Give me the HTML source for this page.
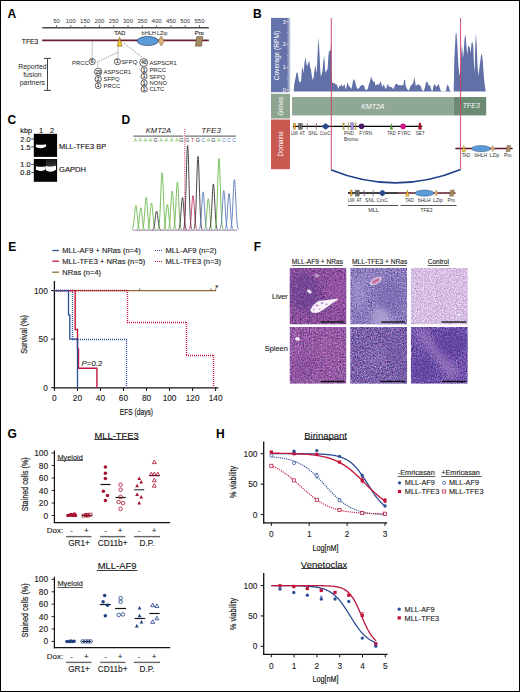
<!DOCTYPE html>
<html><head><meta charset="utf-8"><style>
html,body{margin:0;padding:0;background:#fff;}
body{width:520px;height:692px;overflow:hidden;}
svg{display:block;font-family:"Liberation Sans", sans-serif;}
</style></head><body>
<svg width="520" height="692" viewBox="0 0 520 692">
<rect x="0" y="0" width="520" height="692" fill="#fff"/>
<text x="7.6" y="17.6" font-size="12" text-anchor="start" fill="#000" font-weight="bold" font-style="normal" >A</text>
<text x="253.1" y="17.6" font-size="12" text-anchor="start" fill="#000" font-weight="bold" font-style="normal" >B</text>
<text x="7.4" y="123.8" font-size="12" text-anchor="start" fill="#000" font-weight="bold" font-style="normal" >C</text>
<text x="121.5" y="124" font-size="12" text-anchor="start" fill="#000" font-weight="bold" font-style="normal" >D</text>
<text x="8.2" y="250.6" font-size="12" text-anchor="start" fill="#000" font-weight="bold" font-style="normal" >E</text>
<text x="253.7" y="250.5" font-size="12" text-anchor="start" fill="#000" font-weight="bold" font-style="normal" >F</text>
<text x="7.6" y="438" font-size="12" text-anchor="start" fill="#000" font-weight="bold" font-style="normal" >G</text>
<text x="216" y="438.2" font-size="12" text-anchor="start" fill="#000" font-weight="bold" font-style="normal" >H</text>
<line x1="42.2" y1="27.8" x2="208.8" y2="27.8" stroke="#4a4a4a" stroke-width="1.4" />
<line x1="56.5" y1="25.2" x2="56.5" y2="27.5" stroke="#444" stroke-width="0.8" />
<text x="56.5" y="22.8" font-size="6.0" text-anchor="middle" fill="#333">50</text>
<line x1="70.80000000000001" y1="25.2" x2="70.80000000000001" y2="27.5" stroke="#444" stroke-width="0.8" />
<text x="70.80000000000001" y="22.8" font-size="6.0" text-anchor="middle" fill="#333">100</text>
<line x1="85.10000000000001" y1="25.2" x2="85.10000000000001" y2="27.5" stroke="#444" stroke-width="0.8" />
<text x="85.10000000000001" y="22.8" font-size="6.0" text-anchor="middle" fill="#333">150</text>
<line x1="99.4" y1="25.2" x2="99.4" y2="27.5" stroke="#444" stroke-width="0.8" />
<text x="99.4" y="22.8" font-size="6.0" text-anchor="middle" fill="#333">200</text>
<line x1="113.70000000000002" y1="25.2" x2="113.70000000000002" y2="27.5" stroke="#444" stroke-width="0.8" />
<text x="113.70000000000002" y="22.8" font-size="6.0" text-anchor="middle" fill="#333">250</text>
<line x1="128.0" y1="25.2" x2="128.0" y2="27.5" stroke="#444" stroke-width="0.8" />
<text x="128.0" y="22.8" font-size="6.0" text-anchor="middle" fill="#333">300</text>
<line x1="142.3" y1="25.2" x2="142.3" y2="27.5" stroke="#444" stroke-width="0.8" />
<text x="142.3" y="22.8" font-size="6.0" text-anchor="middle" fill="#333">350</text>
<line x1="156.60000000000002" y1="25.2" x2="156.60000000000002" y2="27.5" stroke="#444" stroke-width="0.8" />
<text x="156.60000000000002" y="22.8" font-size="6.0" text-anchor="middle" fill="#333">400</text>
<line x1="170.90000000000003" y1="25.2" x2="170.90000000000003" y2="27.5" stroke="#444" stroke-width="0.8" />
<text x="170.90000000000003" y="22.8" font-size="6.0" text-anchor="middle" fill="#333">450</text>
<line x1="185.20000000000005" y1="25.2" x2="185.20000000000005" y2="27.5" stroke="#444" stroke-width="0.8" />
<text x="185.20000000000005" y="22.8" font-size="6.0" text-anchor="middle" fill="#333">500</text>
<line x1="199.5" y1="25.2" x2="199.5" y2="27.5" stroke="#444" stroke-width="0.8" />
<text x="199.5" y="22.8" font-size="6.0" text-anchor="middle" fill="#333">550</text>
<text x="38.2" y="43.8" font-size="6.7" text-anchor="end" fill="#1a1a1a" font-weight="normal" font-style="normal" stroke="#1a1a1a" stroke-width="0.12" >TFE3</text>
<line x1="42.2" y1="40.4" x2="208.8" y2="40.4" stroke="#6b1e2c" stroke-width="1.7" />
<line x1="92.2" y1="41.5" x2="92.2" y2="58.2" stroke="#555" stroke-width="0.8" stroke-dasharray="0.9 1.1"/>
<line x1="118" y1="46.5" x2="118" y2="57.8" stroke="#555" stroke-width="0.8" stroke-dasharray="0.9 1.1"/>
<line x1="118" y1="52.2" x2="97.7" y2="61.7" stroke="#555" stroke-width="0.8" stroke-dasharray="0.9 1.1"/>
<line x1="97.7" y1="61.7" x2="97.7" y2="67.6" stroke="#555" stroke-width="0.8" stroke-dasharray="0.9 1.1"/>
<line x1="124" y1="43.2" x2="143.3" y2="58.2" stroke="#555" stroke-width="0.8" stroke-dasharray="0.9 1.1"/>
<polygon points="119.6,36.9 117.2,46.2 122.2,46.2" fill="#f2c230" stroke="#6a5010" stroke-width="0.5"/>
<text x="119.8" y="35.2" font-size="5.8" text-anchor="middle" fill="#222" font-weight="normal" font-style="normal" stroke="#222" stroke-width="0.12" >TAD</text>
<ellipse cx="147.7" cy="41" rx="10.6" ry="4.6" fill="#5b9ad8" stroke="#1d3557" stroke-width="0.6"/>
<text x="155.9" y="35.2" font-size="5.7" text-anchor="end" fill="#222" textLength="14.4" lengthAdjust="spacingAndGlyphs">bHLH</text>
<polygon points="161.3,36 164.3,41 161.3,46 158.3,41" fill="#dcb07a" stroke="#6a5030" stroke-width="0.5"/>
<text x="156.9" y="35.2" font-size="5.7" fill="#222" textLength="10.6" lengthAdjust="spacingAndGlyphs">LZip</text>
<polygon points="196.6,36.6 202.8,36.6 201.6,46.2 195.4,46.2" fill="#a58a62" stroke="#5a4830" stroke-width="0.5"/>
<text x="199.3" y="35.2" font-size="5.8" text-anchor="middle" fill="#222" font-weight="normal" font-style="normal" stroke="#222" stroke-width="0.12" >Pro</text>
<text x="32.4" y="68.9" font-size="6.9" text-anchor="middle" fill="#262626">Reported</text>
<text x="32.4" y="77" font-size="6.9" text-anchor="middle" fill="#262626">fusion</text>
<text x="32.4" y="85.0" font-size="6.9" text-anchor="middle" fill="#262626">partners</text>
<line x1="47.5" y1="58.4" x2="47.5" y2="90.4" stroke="#444" stroke-width="1.0" />
<line x1="44.0" y1="58.4" x2="51.0" y2="58.4" stroke="#444" stroke-width="1.0" />
<line x1="44.0" y1="90.4" x2="51.0" y2="90.4" stroke="#444" stroke-width="1.0" />
<text x="88.7" y="64.5" font-size="5.9" text-anchor="end" fill="#222">PRCC</text>
<circle cx="92.2" cy="61.6" r="3.1" fill="#fff" stroke="#222" stroke-width="0.7"/>
<text x="92.2" y="63.35" font-size="4.9" text-anchor="middle" fill="#111" stroke="#111" stroke-width="0.12">6</text>
<circle cx="117.4" cy="61.7" r="3.1" fill="#fff" stroke="#222" stroke-width="0.7"/>
<text x="117.4" y="63.45" font-size="4.9" text-anchor="middle" fill="#111" stroke="#111" stroke-width="0.12">1</text>
<text x="121.2" y="63.8" font-size="5.9" text-anchor="start" fill="#222">SFPQ</text>
<circle cx="98.2" cy="71.8" r="3.7" fill="#fff" stroke="#222" stroke-width="0.7"/>
<text x="98.2" y="73.55" font-size="4.6" text-anchor="middle" fill="#111" stroke="#111" stroke-width="0.12">29</text>
<circle cx="98.2" cy="79" r="3.2" fill="#fff" stroke="#222" stroke-width="0.7"/>
<text x="98.2" y="80.75" font-size="4.9" text-anchor="middle" fill="#111" stroke="#111" stroke-width="0.12">2</text>
<circle cx="98.2" cy="85.6" r="3.0" fill="#fff" stroke="#222" stroke-width="0.7"/>
<text x="98.2" y="87.35" font-size="4.9" text-anchor="middle" fill="#111" stroke="#111" stroke-width="0.12">1</text>
<text x="103.5" y="73.8" font-size="5.9" text-anchor="start" fill="#222">ASPSCR1</text>
<text x="103.5" y="81.2" font-size="5.9" text-anchor="start" fill="#222">SFPQ</text>
<text x="103.5" y="87.6" font-size="5.9" text-anchor="start" fill="#222">PRCC</text>
<circle cx="143.7" cy="62.5" r="3.9" fill="#fff" stroke="#222" stroke-width="0.7"/>
<text x="143.7" y="64.25" font-size="4.6" text-anchor="middle" fill="#111" stroke="#111" stroke-width="0.12">40</text>
<text x="149.4" y="64.6" font-size="5.9" text-anchor="start" fill="#222">ASPSCR1</text>
<circle cx="144.1" cy="69.9" r="3.1" fill="#fff" stroke="#222" stroke-width="0.7"/>
<text x="144.1" y="71.65" font-size="4.9" text-anchor="middle" fill="#111" stroke="#111" stroke-width="0.12">1</text>
<text x="149.4" y="72.1" font-size="5.9" text-anchor="start" fill="#222">PRCC</text>
<circle cx="144.1" cy="76.3" r="3.1" fill="#fff" stroke="#222" stroke-width="0.7"/>
<text x="144.1" y="78.05" font-size="4.9" text-anchor="middle" fill="#111" stroke="#111" stroke-width="0.12">1</text>
<text x="149.4" y="78.6" font-size="5.9" text-anchor="start" fill="#222">SFPQ</text>
<circle cx="144.1" cy="82.9" r="3.1" fill="#fff" stroke="#222" stroke-width="0.7"/>
<text x="144.1" y="84.65" font-size="4.9" text-anchor="middle" fill="#111" stroke="#111" stroke-width="0.12">1</text>
<text x="149.4" y="85" font-size="5.9" text-anchor="start" fill="#222">NONO</text>
<circle cx="144.1" cy="89.1" r="3.1" fill="#fff" stroke="#222" stroke-width="0.7"/>
<text x="144.1" y="90.85" font-size="4.9" text-anchor="middle" fill="#111" stroke="#111" stroke-width="0.12">1</text>
<text x="149.4" y="91.3" font-size="5.9" text-anchor="start" fill="#222">CLTC</text>
<defs><linearGradient id="covg" x1="0" x2="1" y1="0" y2="0"><stop offset="0" stop-color="#6673aa"/><stop offset="0.82" stop-color="#6673aa"/><stop offset="1" stop-color="#c9cde0"/></linearGradient></defs>
<rect x="271" y="17.9" width="19.2" height="74.3" fill="url(#covg)" />
<rect x="271" y="93.8" width="19" height="24.7" fill="#8da58f" />
<rect x="271" y="119.5" width="19" height="49.7" fill="#c85a52" />
<text transform="translate(278.8,55.6) rotate(-90)" font-size="6.6" text-anchor="middle" fill="#fff">Coverage (RPM)</text>
<text transform="translate(282.8,106.2) rotate(-90)" font-size="6.4" text-anchor="middle" fill="#fff">Genes</text>
<text transform="translate(283,143.8) rotate(-90)" font-size="6.4" text-anchor="middle" fill="#fff">Domains</text>
<text x="284.4" y="23.5" font-size="5.6" text-anchor="middle" fill="#fff" font-weight="normal" font-style="normal" >3</text>
<line x1="286.6" y1="21.5" x2="288.4" y2="21.5" stroke="#fff" stroke-width="0.7" />
<text x="284.4" y="46.3" font-size="5.6" text-anchor="middle" fill="#fff" font-weight="normal" font-style="normal" >2</text>
<line x1="286.6" y1="44.3" x2="288.4" y2="44.3" stroke="#fff" stroke-width="0.7" />
<text x="284.4" y="69.2" font-size="5.6" text-anchor="middle" fill="#fff" font-weight="normal" font-style="normal" >1</text>
<line x1="286.6" y1="67.2" x2="288.4" y2="67.2" stroke="#fff" stroke-width="0.7" />
<text x="284.4" y="92.0" font-size="5.6" text-anchor="middle" fill="#fff" font-weight="normal" font-style="normal" >0</text>
<line x1="286.6" y1="90" x2="288.4" y2="90" stroke="#fff" stroke-width="0.7" />
<line x1="287.2" y1="32.9" x2="288.4" y2="32.9" stroke="#fff" stroke-width="0.5" />
<line x1="287.2" y1="55.75" x2="288.4" y2="55.75" stroke="#fff" stroke-width="0.5" />
<line x1="287.2" y1="78.6" x2="288.4" y2="78.6" stroke="#fff" stroke-width="0.5" />
<path d="M293.7,91.4 L293.65,91.4 L294.23,84.61 L294.81,81.15 L295.61,77.69 L296.54,72.5 L297.69,73.07 L298.61,78.84 L299.42,82.31 L300.58,81.73 L301.15,81.15 L301.73,70.77 L302.31,66.15 L302.88,69.61 L303.46,73.07 L304.38,63.84 L305.54,56.92 L306.35,62.69 L306.92,66.15 L308.08,63.84 L309.23,60.38 L310.15,67.31 L310.96,69.61 L311.77,75.38 L312.69,80.0 L313.61,77.69 L314.42,70.77 L315.23,66.15 L315.58,65.58 L316.15,70.77 L316.73,73.07 L317.54,54.61 L318.46,37.31 L319.04,45.38 L319.61,54.61 L320.19,68.46 L320.77,76.54 L321.69,74.23 L322.5,70.77 L323.31,61.54 L324.23,55.77 L324.81,63.84 L325.38,73.07 L326.54,70.77 L327.69,68.46 L328.27,58.08 L328.84,52.31 L330.0,50.58 L330.58,50.0 L331.15,41.92 L331.5,66.15 L332.02,82.21 L333.36,83.55 L334.31,82.61 L335.38,84.5 L336.46,83.96 L337.4,86.24 L338.34,88.94 L339.42,85.57 L340.5,86.24 L341.44,84.23 L342.79,86.92 L343.46,85.57 L344.54,84.23 L345.48,88.26 L346.15,88.94 L346.82,84.9 L347.5,82.21 L348.57,85.57 L349.52,86.24 L350.19,87.59 L351.27,88.94 L352.21,85.57 L352.88,81.53 L353.96,79.11 L354.9,80.86 L355.57,83.55 L356.65,87.59 L357.59,88.94 L358.94,88.26 L360.28,86.24 L361.22,85.57 L362.3,84.9 L363.38,84.9 L364.32,86.24 L364.99,88.94 L366.07,89.88 L367.01,89.88 L367.95,88.26 L368.76,84.9 L369.7,82.21 L370.38,79.52 L371.05,75.88 L371.72,78.84 L372.8,80.86 L373.74,82.21 L374.41,80.86 L375.36,85.57 L376.43,84.9 L377.38,83.96 L378.45,84.9 L379.53,83.55 L380.47,80.86 L381.41,84.23 L382.49,86.92 L383.57,84.23 L384.51,86.24 L385.45,88.94 L386.26,88.26 L387.2,84.9 L388.14,84.23 L388.95,86.92 L389.89,86.24 L390.83,87.59 L391.91,86.92 L392.99,88.94 L393.93,88.26 L394.87,85.57 L395.95,83.55 L397.03,83.96 L397.97,84.9 L398.91,85.57 L399.71,84.9 L401.06,85.57 L402.4,84.9 L403.34,85.57 L404.15,79.52 L405.09,80.19 L405.77,86.24 L407.11,88.94 L408.46,90.69 L409.54,88.94 L410.48,86.24 L411.42,84.9 L412.5,84.23 L413.57,81.53 L414.25,76.82 L415.19,82.21 L415.86,86.24 L416.8,84.9 L417.88,84.23 L419.23,84.9 L420.57,85.57 L421.65,88.94 L422.59,90.69 L423.94,90.69 L424.88,87.59 L425.69,83.55 L426.63,81.53 L427.57,82.21 L428.65,85.57 L429.72,84.9 L430.67,87.59 L431.61,90.69 L432.69,90.69 L433.36,86.24 L434.3,83.96 L435.38,85.57 L436.45,86.92 L437.8,84.9 L438.74,83.96 L439.68,87.59 L440.76,90.69 L442.11,91.22 L445.87,91.22 L446.82,86.24 L447.76,84.23 L448.84,86.92 L449.91,90.69 L451.53,91.36 L451.53,91.4 L453.7,91.4 L454.22,61.9 L455.61,34.22 L456.47,33.01 L457.34,44.6 L458.55,67.09 L459.41,75.74 L460.45,70.55 L461.14,53.25 L462.01,44.6 L462.87,58.44 L463.74,51.52 L464.6,37.68 L465.47,34.22 L466.33,44.6 L467.2,54.98 L468.06,46.33 L468.93,45.47 L469.79,48.06 L470.66,53.25 L471.52,42.87 L472.39,42.01 L473.25,46.33 L474.12,67.09 L474.64,72.28 L475.33,44.6 L475.85,33.36 L476.71,44.6 L477.58,67.09 L478.44,75.74 L479.31,68.82 L480.17,61.9 L481.04,54.98 L481.9,54.12 L482.77,60.17 L483.63,74.01 L484.5,82.66 L485.71,91.4 Z" fill="#6270a8"/>
<rect x="292" y="97" width="161.4" height="18.4" fill="#8fa795" />
<rect x="453.4" y="97" width="32.8" height="18.4" fill="#6b8b73" />
<text x="361.2" y="108.6" font-size="7" text-anchor="start" fill="#fff" font-weight="normal" font-style="italic" >KMT2A</text>
<text x="462.8" y="108.2" font-size="7" text-anchor="start" fill="#fff" font-weight="normal" font-style="italic" >TFE3</text>
<line x1="292.9" y1="126.4" x2="422.3" y2="126.4" stroke="#000" stroke-width="1.4" />
<rect x="293.7" y="123.30000000000001" width="1.6" height="6" fill="#f0a020" stroke="#7a4a00" stroke-width="0.3"/>
<rect x="298.6" y="123.4" width="1.7" height="6" fill="#808080" stroke="#333" stroke-width="0.35"/>
<rect x="300.7" y="123.4" width="1.7" height="6" fill="#808080" stroke="#333" stroke-width="0.35"/>
<line x1="298.6" y1="124.9" x2="302.4" y2="124.9" stroke="#444" stroke-width="0.3" />
<line x1="298.6" y1="126.4" x2="302.4" y2="126.4" stroke="#444" stroke-width="0.3" />
<line x1="298.6" y1="127.9" x2="302.4" y2="127.9" stroke="#444" stroke-width="0.3" />
<line x1="307.3" y1="123.2" x2="307.3" y2="129.6" stroke="#8a5a8a" stroke-width="0.9" />
<line x1="316.4" y1="123.2" x2="316.4" y2="129.6" stroke="#8a5a8a" stroke-width="0.9" />
<polygon points="321.40000000000003,126.4 325.6,123.0 329.8,126.4 325.6,129.8" fill="#2a4a8a"/>
<text x="290.90" y="135.00" font-size="5.6" fill="#333" textLength="7.00" lengthAdjust="spacingAndGlyphs">LMI</text>
<text x="299.60" y="135.00" font-size="5.6" fill="#333" textLength="5.30" lengthAdjust="spacingAndGlyphs">AT</text>
<text x="308.30" y="135.00" font-size="5.6" fill="#333" textLength="9.60" lengthAdjust="spacingAndGlyphs">SNL</text>
<text x="319.80" y="135.00" font-size="5.6" fill="#333" textLength="11.10" lengthAdjust="spacingAndGlyphs">CxxC</text>
<polygon points="342.3,122.8 344.9,122.8 343.90000000000003,126.3 344.9,129.8 342.3,129.8 343.3,126.3" fill="#b59a48"/>
<polygon points="347.6,122.8 349.1,122.8 348.65000000000003,126.3 349.1,129.8 347.6,129.8 348.05,126.3" fill="#b59a48"/>
<rect x="350.8" y="122.8" width="2.8" height="7" fill="#9b93d4" stroke="#5a5090" stroke-width="0.3"/>
<polygon points="354.5,122.8 356.5,122.8 355.8,126.3 356.5,129.8 354.5,129.8 355.2,126.3" fill="#b59a48"/>
<circle cx="361.6" cy="126.3" r="2.8" fill="#4b1c6b"/>
<polygon points="391.3,122.8 389.9,129.4 393,129.4" fill="#4a9a30"/>
<circle cx="403.1" cy="126.4" r="2.8" fill="#d0148c"/>
<polygon points="418.9,122.8 420.9,122.8 421.8,129.5 418.3,129.5" fill="#a3122e"/>
<text x="344.00" y="135.00" font-size="5.6" fill="#333" textLength="9.90" lengthAdjust="spacingAndGlyphs">PHD</text>
<text x="344.00" y="141.10" font-size="5.6" fill="#333" textLength="14.20" lengthAdjust="spacingAndGlyphs">Bromo</text>
<text x="359.20" y="135.00" font-size="5.6" fill="#333" textLength="12.90" lengthAdjust="spacingAndGlyphs">FYRN</text>
<text x="387.20" y="135.00" font-size="5.6" fill="#333" textLength="8.70" lengthAdjust="spacingAndGlyphs">TAD</text>
<text x="397.80" y="135.00" font-size="5.6" fill="#333" textLength="12.80" lengthAdjust="spacingAndGlyphs">FYRC</text>
<text x="415.80" y="135.00" font-size="5.6" fill="#333" textLength="8.90" lengthAdjust="spacingAndGlyphs">SET</text>
<line x1="455.4" y1="148.6" x2="512.6" y2="148.6" stroke="#5e1424" stroke-width="1.5" />
<polygon points="463.8,145.2 462.0,151.79999999999998 465.6,151.79999999999998" fill="#f2c230" stroke="#6a5010" stroke-width="0.3"/>
<ellipse cx="481" cy="148.6" rx="9.5" ry="3.1" fill="#5b9ad8" stroke="#1d3557" stroke-width="0.4"/>
<polygon points="492.7,145.6 494.59999999999997,148.6 492.7,151.6 490.8,148.6" fill="#dcb07a" stroke="#6a5030" stroke-width="0.3"/>
<polygon points="507,145.4 510.8,145.4 509.8,151.79999999999998 506,151.79999999999998" fill="#a58a62" stroke="#5a4830" stroke-width="0.3"/>
<text x="461.70" y="157.40" font-size="5.6" fill="#333" textLength="8.70" lengthAdjust="spacingAndGlyphs">TAD</text>
<text x="474.40" y="157.40" font-size="5.6" fill="#333" textLength="12.80" lengthAdjust="spacingAndGlyphs">bHLH</text>
<text x="489.60" y="157.40" font-size="5.6" fill="#333" textLength="9.80" lengthAdjust="spacingAndGlyphs">LZip</text>
<text x="503.90" y="157.40" font-size="5.6" fill="#333" textLength="7.60" lengthAdjust="spacingAndGlyphs">Pro</text>
<line x1="331.3" y1="17.9" x2="331.3" y2="170.2" stroke="#c9405c" stroke-width="0.9" />
<line x1="460.6" y1="17.9" x2="460.6" y2="169.6" stroke="#c9405c" stroke-width="0.9" />
<path d="M331.3,170 Q396,196 460.6,169.5" fill="none" stroke="#1f3f8a" stroke-width="1.5"/>
<line x1="348" y1="193.1" x2="398.8" y2="193.1" stroke="#000" stroke-width="1.5" />
<line x1="398.8" y1="193.1" x2="455.4" y2="193.1" stroke="#5e1424" stroke-width="1.5" />
<rect x="350.5" y="190.0" width="1.6" height="6" fill="#f0a020" stroke="#7a4a00" stroke-width="0.3"/>
<rect x="355.40000000000003" y="190.1" width="1.7" height="6" fill="#808080" stroke="#333" stroke-width="0.35"/>
<rect x="357.5" y="190.1" width="1.7" height="6" fill="#808080" stroke="#333" stroke-width="0.35"/>
<line x1="355.40000000000003" y1="191.6" x2="359.2" y2="191.6" stroke="#444" stroke-width="0.3" />
<line x1="355.40000000000003" y1="193.1" x2="359.2" y2="193.1" stroke="#444" stroke-width="0.3" />
<line x1="355.40000000000003" y1="194.6" x2="359.2" y2="194.6" stroke="#444" stroke-width="0.3" />
<line x1="364.1" y1="189.9" x2="364.1" y2="196.29999999999998" stroke="#8a5a8a" stroke-width="0.9" />
<line x1="373.2" y1="189.9" x2="373.2" y2="196.29999999999998" stroke="#8a5a8a" stroke-width="0.9" />
<polygon points="378.20000000000005,193.1 382.40000000000003,189.7 386.6,193.1 382.40000000000003,196.5" fill="#2a4a8a"/>
<text x="347.70" y="201.70" font-size="5.6" fill="#333" textLength="7.00" lengthAdjust="spacingAndGlyphs">LMI</text>
<text x="356.40" y="201.70" font-size="5.6" fill="#333" textLength="5.30" lengthAdjust="spacingAndGlyphs">AT</text>
<text x="365.10" y="201.70" font-size="5.6" fill="#333" textLength="9.60" lengthAdjust="spacingAndGlyphs">SNL</text>
<text x="376.60" y="201.70" font-size="5.6" fill="#333" textLength="11.10" lengthAdjust="spacingAndGlyphs">CxxC</text>
<polygon points="407.3,189.7 405.5,196.29999999999998 409.1,196.29999999999998" fill="#f2c230" stroke="#6a5010" stroke-width="0.3"/>
<ellipse cx="424.5" cy="193.1" rx="9.5" ry="3.1" fill="#5b9ad8" stroke="#1d3557" stroke-width="0.4"/>
<polygon points="436.2,190.1 438.09999999999997,193.1 436.2,196.1 434.3,193.1" fill="#dcb07a" stroke="#6a5030" stroke-width="0.3"/>
<polygon points="450.5,189.9 454.3,189.9 453.3,196.29999999999998 449.5,196.29999999999998" fill="#a58a62" stroke="#5a4830" stroke-width="0.3"/>
<text x="405.20" y="201.90" font-size="5.6" fill="#333" textLength="8.70" lengthAdjust="spacingAndGlyphs">TAD</text>
<text x="417.90" y="201.90" font-size="5.6" fill="#333" textLength="12.80" lengthAdjust="spacingAndGlyphs">bHLH</text>
<text x="433.10" y="201.90" font-size="5.6" fill="#333" textLength="9.80" lengthAdjust="spacingAndGlyphs">LZip</text>
<text x="447.40" y="201.90" font-size="5.6" fill="#333" textLength="7.60" lengthAdjust="spacingAndGlyphs">Pro</text>
<line x1="348" y1="205.5" x2="398.3" y2="205.5" stroke="#555" stroke-width="1.0" />
<line x1="400.6" y1="205.5" x2="456.5" y2="205.5" stroke="#555" stroke-width="1.0" />
<text x="368.20" y="212.20" font-size="5.6" fill="#333" textLength="10.60" lengthAdjust="spacingAndGlyphs">MLL</text>
<text x="420.60" y="212.20" font-size="5.6" fill="#333" textLength="11.80" lengthAdjust="spacingAndGlyphs">TFE3</text>
<rect x="33.8" y="133.8" width="23.3" height="23.1" fill="#050505" />
<rect x="33.8" y="159.0" width="23.3" height="22.8" fill="#050505" />
<defs><radialGradient id="band" cx="0.5" cy="0.5" r="0.5"><stop offset="0" stop-color="#fff"/><stop offset="0.7" stop-color="#f4f4f4"/><stop offset="1" stop-color="#fff" stop-opacity="0"/></radialGradient><linearGradient id="smear" x1="0" x2="0" y1="0" y2="1"><stop offset="0" stop-color="#222"/><stop offset="1" stop-color="#555"/></linearGradient></defs>
<filter id="bb" x="-20%" y="-50%" width="140%" height="200%"><feGaussianBlur stdDeviation="0.35"/></filter>
<path d="M35.9,144.4 Q41,145.4 46.1,144.2 L46.1,146.6 Q41,149.8 35.9,146.9 Z" fill="#fff" filter="url(#bb)"/>
<rect x="45.8" y="159.2" width="10.4" height="7.4" fill="url(#smear)" opacity="0.65"/>
<path d="M35.9,166.2 Q40.8,167.2 45.6,166.2 L45.6,169.4 Q40.8,172.2 35.9,169.8 Z" fill="#fff" filter="url(#bb)"/>
<path d="M45.8,165.9 Q50.9,167 56,165.8 L56,169.8 Q50.9,173.4 45.8,170.2 Z" fill="#fff" filter="url(#bb)"/>
<text x="20.3" y="133.2" font-size="7.3" text-anchor="start" fill="#111" font-weight="normal" font-style="normal" stroke="#111" stroke-width="0.12" >kbp</text>
<text x="41" y="133.2" font-size="7.3" text-anchor="middle" fill="#111" font-weight="normal" font-style="normal" stroke="#111" stroke-width="0.12" >1</text>
<text x="52" y="133.2" font-size="7.3" text-anchor="middle" fill="#111" font-weight="normal" font-style="normal" stroke="#111" stroke-width="0.12" >2</text>
<text x="30.5" y="141.6" font-size="7.3" text-anchor="end" fill="#111" font-weight="normal" font-style="normal" stroke="#111" stroke-width="0.12" >2.0</text>
<line x1="31.2" y1="139" x2="33.8" y2="139" stroke="#111" stroke-width="0.8" />
<text x="30.5" y="149.5" font-size="7.3" text-anchor="end" fill="#111" font-weight="normal" font-style="normal" stroke="#111" stroke-width="0.12" >1.5</text>
<line x1="31.2" y1="146.9" x2="33.8" y2="146.9" stroke="#111" stroke-width="0.8" />
<text x="30.5" y="167.0" font-size="7.3" text-anchor="end" fill="#111" font-weight="normal" font-style="normal" stroke="#111" stroke-width="0.12" >1.0</text>
<line x1="31.2" y1="164.4" x2="33.8" y2="164.4" stroke="#111" stroke-width="0.8" />
<text x="30.5" y="175.2" font-size="7.3" text-anchor="end" fill="#111" font-weight="normal" font-style="normal" stroke="#111" stroke-width="0.12" >0.8</text>
<line x1="31.2" y1="172.6" x2="33.8" y2="172.6" stroke="#111" stroke-width="0.8" />
<text x="59" y="149.1" font-size="7.45" text-anchor="start" fill="#111" font-weight="normal" font-style="normal" stroke="#111" stroke-width="0.12" >MLL-TFE3 BP</text>
<text x="59" y="172.1" font-size="7.6" text-anchor="start" fill="#111" font-weight="normal" font-style="normal" stroke="#111" stroke-width="0.12" >GAPDH</text>
<text x="158.4" y="132.6" font-size="8" text-anchor="middle" fill="#1a1a1a" font-style="italic" textLength="25.3" lengthAdjust="spacingAndGlyphs">KMT2A</text>
<text x="211.1" y="132.6" font-size="8" text-anchor="middle" fill="#1a1a1a" font-style="italic">TFE3</text>
<line x1="133.4" y1="136.1" x2="183.2" y2="136.1" stroke="#707070" stroke-width="1.4" />
<line x1="185.2" y1="136.1" x2="235.8" y2="136.1" stroke="#707070" stroke-width="1.4" />
<text x="135.3" y="142.2" font-size="5.3" text-anchor="middle" fill="#6cb84c">A</text>
<text x="139.9" y="142.2" font-size="5.3" text-anchor="middle" fill="#6cb84c">A</text>
<text x="145.4" y="142.2" font-size="5.3" text-anchor="middle" fill="#6cb84c">A</text>
<text x="150.4" y="142.2" font-size="5.3" text-anchor="middle" fill="#6cb84c">A</text>
<text x="155.5" y="142.2" font-size="5.3" text-anchor="middle" fill="#333">G</text>
<text x="161" y="142.2" font-size="5.3" text-anchor="middle" fill="#6cb84c">A</text>
<text x="166.3" y="142.2" font-size="5.3" text-anchor="middle" fill="#6cb84c">A</text>
<text x="171.7" y="142.2" font-size="5.3" text-anchor="middle" fill="#6cb84c">A</text>
<text x="177" y="142.2" font-size="5.3" text-anchor="middle" fill="#6cb84c">A</text>
<text x="181.4" y="142.2" font-size="5.3" text-anchor="middle" fill="#333">G</text>
<text x="187.2" y="142.2" font-size="5.3" text-anchor="middle" fill="#333">G</text>
<text x="192.7" y="142.2" font-size="5.3" text-anchor="middle" fill="#c8355a">T</text>
<text x="197.8" y="142.2" font-size="5.3" text-anchor="middle" fill="#333">G</text>
<text x="203.1" y="142.2" font-size="5.3" text-anchor="middle" fill="#5b7cb8">C</text>
<text x="208.3" y="142.2" font-size="5.3" text-anchor="middle" fill="#6cb84c">A</text>
<text x="213.4" y="142.2" font-size="5.3" text-anchor="middle" fill="#333">G</text>
<text x="218.7" y="142.2" font-size="5.3" text-anchor="middle" fill="#6cb84c">A</text>
<text x="223.8" y="142.2" font-size="5.3" text-anchor="middle" fill="#5b7cb8">C</text>
<text x="229" y="142.2" font-size="5.3" text-anchor="middle" fill="#5b7cb8">C</text>
<text x="234.1" y="142.2" font-size="5.3" text-anchor="middle" fill="#5b7cb8">C</text>
<polyline points="131.50,229.88 131.70,229.81 131.90,229.69 132.10,229.53 132.30,229.30 132.50,228.97 132.70,228.52 132.90,227.92 133.10,227.14 133.30,226.15 133.50,224.93 133.70,223.48 133.90,221.79 134.10,219.89 134.30,217.81 134.50,215.63 134.70,213.43 134.90,211.30 135.10,209.36 135.30,207.71 135.50,206.46 135.70,205.67 135.90,205.40 136.10,205.67 136.30,206.46 136.50,207.71 136.70,209.36 136.90,211.30 137.10,213.43 137.30,215.63 137.50,217.81 137.70,219.89 137.90,221.79 138.10,223.48 138.30,224.93 138.50,226.15 138.70,227.14 138.90,227.92 139.10,228.52 139.30,228.97 139.50,229.30 139.70,229.53 139.90,229.69 140.10,229.81 140.30,229.88" fill="none" stroke="#6cb84c" stroke-width="0.9"/>
<polyline points="136.40,229.89 136.60,229.82 136.80,229.72 137.00,229.58 137.20,229.37 137.40,229.07 137.60,228.66 137.80,228.12 138.00,227.42 138.20,226.53 138.40,225.43 138.60,224.12 138.80,222.59 139.00,220.87 139.20,219.00 139.40,217.03 139.60,215.05 139.80,213.13 140.00,211.37 140.20,209.89 140.40,208.75 140.60,208.04 140.80,207.80 141.00,208.04 141.20,208.75 141.40,209.89 141.60,211.37 141.80,213.13 142.00,215.05 142.20,217.03 142.40,219.00 142.60,220.87 142.80,222.59 143.00,224.12 143.20,225.43 143.40,226.53 143.60,227.42 143.80,228.12 144.00,228.66 144.20,229.07 144.40,229.37 144.60,229.58 144.80,229.72 145.00,229.82 145.20,229.89" fill="none" stroke="#6cb84c" stroke-width="0.9"/>
<polyline points="141.80,229.84 142.00,229.74 142.20,229.60 142.40,229.38 142.60,229.07 142.80,228.63 143.00,228.04 143.20,227.24 143.40,226.21 143.60,224.90 143.80,223.29 144.00,221.36 144.20,219.12 144.40,216.60 144.60,213.85 144.80,210.96 145.00,208.04 145.20,205.22 145.40,202.65 145.60,200.47 145.80,198.80 146.00,197.76 146.20,197.40 146.40,197.76 146.60,198.80 146.80,200.47 147.00,202.65 147.20,205.22 147.40,208.04 147.60,210.96 147.80,213.85 148.00,216.60 148.20,219.12 148.40,221.36 148.60,223.29 148.80,224.90 149.00,226.21 149.20,227.24 149.40,228.04 149.60,228.63 149.80,229.07 150.00,229.38 150.20,229.60 150.40,229.74 150.60,229.84" fill="none" stroke="#6cb84c" stroke-width="0.9"/>
<polyline points="147.10,229.87 147.30,229.79 147.50,229.67 147.70,229.49 147.90,229.23 148.10,228.87 148.30,228.37 148.50,227.71 148.70,226.86 148.90,225.77 149.10,224.44 149.30,222.84 149.50,220.99 149.70,218.90 149.90,216.62 150.10,214.23 150.30,211.81 150.50,209.48 150.70,207.35 150.90,205.54 151.10,204.16 151.30,203.29 151.50,203.00 151.70,203.29 151.90,204.16 152.10,205.54 152.30,207.35 152.50,209.48 152.70,211.81 152.90,214.23 153.10,216.62 153.30,218.90 153.50,220.99 153.70,222.84 153.90,224.44 154.10,225.77 154.30,226.86 154.50,227.71 154.70,228.37 154.90,228.87 155.10,229.23 155.30,229.49 155.50,229.67 155.70,229.79 155.90,229.87" fill="none" stroke="#6cb84c" stroke-width="0.9"/>
<polyline points="152.20,229.91 152.40,229.85 152.60,229.76 152.80,229.64 153.00,229.46 153.20,229.20 153.40,228.86 153.60,228.39 153.80,227.79 154.00,227.03 154.20,226.09 154.40,224.96 154.60,223.66 154.80,222.19 155.00,220.59 155.20,218.90 155.40,217.20 155.60,215.56 155.80,214.06 156.00,212.79 156.20,211.82 156.40,211.21 156.60,211.00 156.80,211.21 157.00,211.82 157.20,212.79 157.40,214.06 157.60,215.56 157.80,217.20 158.00,218.90 158.20,220.59 158.40,222.19 158.60,223.66 158.80,224.96 159.00,226.09 159.20,227.03 159.40,227.79 159.60,228.39 159.80,228.86 160.00,229.20 160.20,229.46 160.40,229.64 160.60,229.76 160.80,229.85 161.00,229.91" fill="none" stroke="#333" stroke-width="0.9"/>
<polyline points="157.70,229.72 157.90,229.55 158.10,229.29 158.30,228.91 158.50,228.36 158.70,227.60 158.90,226.55 159.10,225.15 159.30,223.33 159.50,221.03 159.70,218.20 159.90,214.81 160.10,210.88 160.30,206.44 160.50,201.61 160.70,196.53 160.90,191.40 161.10,186.45 161.30,181.93 161.50,178.09 161.70,175.16 161.90,173.33 162.10,172.70 162.30,173.33 162.50,175.16 162.70,178.09 162.90,181.93 163.10,186.45 163.30,191.40 163.50,196.53 163.70,201.61 163.90,206.44 164.10,210.88 164.30,214.81 164.50,218.20 164.70,221.03 164.90,223.33 165.10,225.15 165.30,226.55 165.50,227.60 165.70,228.36 165.90,228.91 166.10,229.29 166.30,229.55 166.50,229.72" fill="none" stroke="#6cb84c" stroke-width="0.9"/>
<polyline points="163.00,229.87 163.20,229.80 163.40,229.68 163.60,229.52 163.80,229.27 164.00,228.93 164.20,228.47 164.40,227.85 164.60,227.04 164.80,226.02 165.00,224.77 165.20,223.27 165.40,221.52 165.60,219.56 165.80,217.42 166.00,215.16 166.20,212.89 166.40,210.69 166.60,208.69 166.80,206.99 167.00,205.69 167.20,204.88 167.40,204.60 167.60,204.88 167.80,205.69 168.00,206.99 168.20,208.69 168.40,210.69 168.60,212.89 168.80,215.16 169.00,217.42 169.20,219.56 169.40,221.52 169.60,223.27 169.80,224.77 170.00,226.02 170.20,227.04 170.40,227.85 170.60,228.47 170.80,228.93 171.00,229.27 171.20,229.52 171.40,229.68 171.60,229.80 171.80,229.87" fill="none" stroke="#6cb84c" stroke-width="0.9"/>
<polyline points="167.80,229.81 168.00,229.69 168.20,229.52 168.40,229.26 168.60,228.89 168.80,228.36 169.00,227.65 169.20,226.70 169.40,225.46 169.60,223.90 169.80,221.97 170.00,219.66 170.20,216.98 170.40,213.97 170.60,210.68 170.80,207.22 171.00,203.73 171.20,200.36 171.40,197.28 171.60,194.67 171.80,192.67 172.00,191.43 172.20,191.00 172.40,191.43 172.60,192.67 172.80,194.67 173.00,197.28 173.20,200.36 173.40,203.73 173.60,207.22 173.80,210.68 174.00,213.97 174.20,216.98 174.40,219.66 174.60,221.97 174.80,223.90 175.00,225.46 175.20,226.70 175.40,227.65 175.60,228.36 175.80,228.89 176.00,229.26 176.20,229.52 176.40,229.69 176.60,229.81" fill="none" stroke="#6cb84c" stroke-width="0.9"/>
<polyline points="173.00,229.76 173.20,229.62 173.40,229.40 173.60,229.09 173.80,228.63 174.00,227.99 174.20,227.11 174.40,225.94 174.60,224.41 174.80,222.49 175.00,220.12 175.20,217.28 175.40,213.98 175.60,210.27 175.80,206.22 176.00,201.96 176.20,197.67 176.40,193.52 176.60,189.73 176.80,186.51 177.00,184.06 177.20,182.52 177.40,182.00 177.60,182.52 177.80,184.06 178.00,186.51 178.20,189.73 178.40,193.52 178.60,197.67 178.80,201.96 179.00,206.22 179.20,210.27 179.40,213.98 179.60,217.28 179.80,220.12 180.00,222.49 180.20,224.41 180.40,225.94 180.60,227.11 180.80,227.99 181.00,228.63 181.20,229.09 181.40,229.40 181.60,229.62 181.80,229.76" fill="none" stroke="#6cb84c" stroke-width="0.9"/>
<polyline points="178.10,229.84 178.30,229.74 178.50,229.60 178.70,229.38 178.90,229.07 179.10,228.63 179.30,228.04 179.50,227.24 179.70,226.21 179.90,224.90 180.10,223.29 180.30,221.36 180.50,219.12 180.70,216.60 180.90,213.85 181.10,210.96 181.30,208.04 181.50,205.22 181.70,202.65 181.90,200.47 182.10,198.80 182.30,197.76 182.50,197.40 182.70,197.76 182.90,198.80 183.10,200.47 183.30,202.65 183.50,205.22 183.70,208.04 183.90,210.96 184.10,213.85 184.30,216.60 184.50,219.12 184.70,221.36 184.90,223.29 185.10,224.90 185.30,226.21 185.50,227.24 185.70,228.04 185.90,228.63 186.10,229.07 186.30,229.38 186.50,229.60 186.70,229.74 186.90,229.84" fill="none" stroke="#333" stroke-width="0.9"/>
<polyline points="183.20,229.58 183.40,229.33 183.60,228.95 183.80,228.39 184.00,227.59 184.20,226.46 184.40,224.91 184.60,222.85 184.80,220.17 185.00,216.77 185.20,212.60 185.40,207.60 185.60,201.80 185.80,195.26 186.00,188.14 186.20,180.65 186.40,173.08 186.60,165.77 186.80,159.11 187.00,153.45 187.20,149.13 187.40,146.42 187.60,145.50 187.80,146.42 188.00,149.13 188.20,153.45 188.40,159.11 188.60,165.77 188.80,173.08 189.00,180.65 189.20,188.14 189.40,195.26 189.60,201.80 189.80,207.60 190.00,212.60 190.20,216.77 190.40,220.17 190.60,222.85 190.80,224.91 191.00,226.46 191.20,227.59 191.40,228.39 191.60,228.95 191.80,229.33 192.00,229.58" fill="none" stroke="#333" stroke-width="0.9"/>
<polyline points="188.60,229.83 188.80,229.73 189.00,229.57 189.20,229.34 189.40,229.01 189.60,228.55 189.80,227.92 190.00,227.08 190.20,225.98 190.40,224.60 190.60,222.90 190.80,220.86 191.00,218.49 191.20,215.82 191.40,212.91 191.60,209.85 191.80,206.76 192.00,203.78 192.20,201.06 192.40,198.74 192.60,196.98 192.80,195.88 193.00,195.50 193.20,195.88 193.40,196.98 193.60,198.74 193.80,201.06 194.00,203.78 194.20,206.76 194.40,209.85 194.60,212.91 194.80,215.82 195.00,218.49 195.20,220.86 195.40,222.90 195.60,224.60 195.80,225.98 196.00,227.08 196.20,227.92 196.40,228.55 196.60,229.01 196.80,229.34 197.00,229.57 197.20,229.73 197.40,229.83" fill="none" stroke="#c8355a" stroke-width="0.9"/>
<polyline points="193.60,229.64 193.80,229.42 194.00,229.09 194.20,228.60 194.40,227.90 194.60,226.91 194.80,225.57 195.00,223.77 195.20,221.43 195.40,218.48 195.60,214.84 195.80,210.49 196.00,205.44 196.20,199.74 196.40,193.54 196.60,187.01 196.80,180.42 197.00,174.06 197.20,168.25 197.40,163.32 197.60,159.56 197.80,157.20 198.00,156.40 198.20,157.20 198.40,159.56 198.60,163.32 198.80,168.25 199.00,174.06 199.20,180.42 199.40,187.01 199.60,193.54 199.80,199.74 200.00,205.44 200.20,210.49 200.40,214.84 200.60,218.48 200.80,221.43 201.00,223.77 201.20,225.57 201.40,226.91 201.60,227.90 201.80,228.60 202.00,229.09 202.20,229.42 202.40,229.64" fill="none" stroke="#333" stroke-width="0.9"/>
<polyline points="198.70,229.81 198.90,229.70 199.10,229.53 199.30,229.27 199.50,228.91 199.70,228.40 199.90,227.70 200.10,226.77 200.30,225.55 200.50,224.02 200.70,222.13 200.90,219.88 201.10,217.25 201.30,214.30 201.50,211.07 201.70,207.69 201.90,204.27 202.10,200.97 202.30,197.95 202.50,195.39 202.70,193.44 202.90,192.22 203.10,191.80 203.30,192.22 203.50,193.44 203.70,195.39 203.90,197.95 204.10,200.97 204.30,204.27 204.50,207.69 204.70,211.07 204.90,214.30 205.10,217.25 205.30,219.88 205.50,222.13 205.70,224.02 205.90,225.55 206.10,226.77 206.30,227.70 206.50,228.40 206.70,228.91 206.90,229.27 207.10,229.53 207.30,229.70 207.50,229.81" fill="none" stroke="#5b7cb8" stroke-width="0.9"/>
<polyline points="203.90,229.85 204.10,229.75 204.30,229.61 204.50,229.40 204.70,229.11 204.90,228.69 205.10,228.11 205.30,227.35 205.50,226.36 205.70,225.10 205.90,223.55 206.10,221.70 206.30,219.55 206.50,217.13 206.70,214.49 206.90,211.72 207.10,208.92 207.30,206.21 207.50,203.74 207.70,201.64 207.90,200.04 208.10,199.04 208.30,198.70 208.50,199.04 208.70,200.04 208.90,201.64 209.10,203.74 209.30,206.21 209.50,208.92 209.70,211.72 209.90,214.49 210.10,217.13 210.30,219.55 210.50,221.70 210.70,223.55 210.90,225.10 211.10,226.36 211.30,227.35 211.50,228.11 211.70,228.69 211.90,229.11 212.10,229.40 212.30,229.61 212.50,229.75 212.70,229.85" fill="none" stroke="#6cb84c" stroke-width="0.9"/>
<polyline points="209.00,229.77 209.20,229.64 209.40,229.43 209.60,229.12 209.80,228.68 210.00,228.07 210.20,227.22 210.40,226.10 210.60,224.63 210.80,222.78 211.00,220.51 211.20,217.78 211.40,214.61 211.60,211.05 211.80,207.16 212.00,203.07 212.20,198.95 212.40,194.96 212.60,191.32 212.80,188.24 213.00,185.88 213.20,184.40 213.40,183.90 213.60,184.40 213.80,185.88 214.00,188.24 214.20,191.32 214.40,194.96 214.60,198.95 214.80,203.07 215.00,207.16 215.20,211.05 215.40,214.61 215.60,217.78 215.80,220.51 216.00,222.78 216.20,224.63 216.40,226.10 216.60,227.22 216.80,228.07 217.00,228.68 217.20,229.12 217.40,229.43 217.60,229.64 217.80,229.77" fill="none" stroke="#333" stroke-width="0.9"/>
<polyline points="214.60,229.65 214.80,229.43 215.00,229.11 215.20,228.64 215.40,227.95 215.60,227.00 215.80,225.69 216.00,223.94 216.20,221.67 216.40,218.79 216.60,215.26 216.80,211.02 217.00,206.10 217.20,200.56 217.40,194.53 217.60,188.18 217.80,181.77 218.00,175.58 218.20,169.93 218.40,165.13 218.60,161.47 218.80,159.18 219.00,158.40 219.20,159.18 219.40,161.47 219.60,165.13 219.80,169.93 220.00,175.58 220.20,181.77 220.40,188.18 220.60,194.53 220.80,200.56 221.00,206.10 221.20,211.02 221.40,215.26 221.60,218.79 221.80,221.67 222.00,223.94 222.20,225.69 222.40,227.00 222.60,227.95 222.80,228.64 223.00,229.11 223.20,229.43 223.40,229.65" fill="none" stroke="#6cb84c" stroke-width="0.9"/>
<polyline points="219.40,229.81 219.60,229.69 219.80,229.51 220.00,229.25 220.20,228.88 220.40,228.35 220.60,227.63 220.80,226.67 221.00,225.43 221.20,223.85 221.40,221.91 221.60,219.58 221.80,216.88 222.00,213.84 222.20,210.53 222.40,207.05 222.60,203.53 222.80,200.13 223.00,197.03 223.20,194.40 223.40,192.39 223.60,191.13 223.80,190.70 224.00,191.13 224.20,192.39 224.40,194.40 224.60,197.03 224.80,200.13 225.00,203.53 225.20,207.05 225.40,210.53 225.60,213.84 225.80,216.88 226.00,219.58 226.20,221.91 226.40,223.85 226.60,225.43 226.80,226.67 227.00,227.63 227.20,228.35 227.40,228.88 227.60,229.25 227.80,229.51 228.00,229.69 228.20,229.81" fill="none" stroke="#5b7cb8" stroke-width="0.9"/>
<polyline points="224.60,229.82 224.80,229.71 225.00,229.55 225.20,229.30 225.40,228.95 225.60,228.46 225.80,227.80 226.00,226.90 226.20,225.74 226.40,224.27 226.60,222.46 226.80,220.30 227.00,217.79 227.20,214.95 227.40,211.87 227.60,208.62 227.80,205.34 228.00,202.18 228.20,199.29 228.40,196.84 228.60,194.97 228.80,193.80 229.00,193.40 229.20,193.80 229.40,194.97 229.60,196.84 229.80,199.29 230.00,202.18 230.20,205.34 230.40,208.62 230.60,211.87 230.80,214.95 231.00,217.79 231.20,220.30 231.40,222.46 231.60,224.27 231.80,225.74 232.00,226.90 232.20,227.80 232.40,228.46 232.60,228.95 232.80,229.30 233.00,229.55 233.20,229.71 233.40,229.82" fill="none" stroke="#5b7cb8" stroke-width="0.9"/>
<polyline points="230.00,229.75 230.20,229.60 230.40,229.37 230.60,229.04 230.80,228.56 231.00,227.89 231.20,226.96 231.40,225.73 231.60,224.13 231.80,222.11 232.00,219.62 232.20,216.64 232.40,213.18 232.60,209.28 232.80,205.03 233.00,200.56 233.20,196.05 233.40,191.69 233.60,187.72 233.80,184.34 234.00,181.76 234.20,180.15 234.40,179.60 234.60,180.15 234.80,181.76 235.00,184.34 235.20,187.72 235.40,191.69 235.60,196.05 235.80,200.56 236.00,205.03 236.20,209.28 236.40,213.18 236.60,216.64 236.80,219.62 237.00,222.11 237.20,224.13 237.40,225.73 237.60,226.96 237.80,227.89 238.00,228.56 238.20,229.04 238.40,229.37 238.60,229.60 238.80,229.75" fill="none" stroke="#5b7cb8" stroke-width="0.9"/>
<line x1="133" y1="230.2" x2="237" y2="230.2" stroke="#8a6a9a" stroke-width="0.8" />
<line x1="184.8" y1="129" x2="184.8" y2="231" stroke="#d42a62" stroke-width="1.0" stroke-dasharray="1 1.1"/>
<line x1="52.3" y1="250.5" x2="58.9" y2="250.5" stroke="#2c4f9a" stroke-width="1.3" />
<text x="62.3" y="252.9" font-size="7.55" text-anchor="start" fill="#222" font-weight="normal" font-style="normal" stroke="#222" stroke-width="0.12" >MLL-AF9 + NRas (n=4)</text>
<line x1="52.3" y1="261.2" x2="58.9" y2="261.2" stroke="#c4173f" stroke-width="1.3" />
<text x="62.3" y="263.7" font-size="7.55" text-anchor="start" fill="#222" font-weight="normal" font-style="normal" stroke="#222" stroke-width="0.12" >MLL-TFE3 + NRas (n=5)</text>
<line x1="52.3" y1="272.2" x2="58.9" y2="272.2" stroke="#8b6a3e" stroke-width="1.3" />
<text x="62.3" y="274.6" font-size="7.55" text-anchor="start" fill="#222" font-weight="normal" font-style="normal" stroke="#222" stroke-width="0.12" >NRas (n=4)</text>
<line x1="155" y1="250.5" x2="162" y2="250.5" stroke="#2c4f9a" stroke-width="1.2" stroke-dasharray="1 1"/>
<text x="165.5" y="252.9" font-size="7.55" text-anchor="start" fill="#222" font-weight="normal" font-style="normal" stroke="#222" stroke-width="0.12" >MLL-AF9 (n=2)</text>
<line x1="155" y1="261.5" x2="162" y2="261.5" stroke="#c4173f" stroke-width="1.2" stroke-dasharray="1 1"/>
<text x="165.5" y="263.7" font-size="7.55" text-anchor="start" fill="#222" font-weight="normal" font-style="normal" stroke="#222" stroke-width="0.12" >MLL-TFE3 (n=3)</text>
<line x1="54.4" y1="281" x2="54.4" y2="388.5" stroke="#111" stroke-width="1.3" />
<line x1="53.8" y1="387.9" x2="218.4" y2="387.9" stroke="#111" stroke-width="1.3" />
<line x1="51.2" y1="387.7" x2="54.4" y2="387.7" stroke="#111" stroke-width="1.0" />
<text x="47.8" y="390.7" font-size="8.3" text-anchor="end" fill="#222" font-weight="normal" font-style="normal" stroke="#222" stroke-width="0.12" >0</text>
<line x1="51.2" y1="339.15" x2="54.4" y2="339.15" stroke="#111" stroke-width="1.0" />
<text x="47.8" y="342.15" font-size="8.3" text-anchor="end" fill="#222" font-weight="normal" font-style="normal" stroke="#222" stroke-width="0.12" >50</text>
<line x1="51.2" y1="290.6" x2="54.4" y2="290.6" stroke="#111" stroke-width="1.0" />
<text x="47.8" y="293.6" font-size="8.3" text-anchor="end" fill="#222" font-weight="normal" font-style="normal" stroke="#222" stroke-width="0.12" >100</text>
<line x1="54.4" y1="387.9" x2="54.4" y2="391" stroke="#111" stroke-width="1.0" />
<text x="54.4" y="400.6" font-size="8.3" text-anchor="middle" fill="#222" font-weight="normal" font-style="normal" stroke="#222" stroke-width="0.12" >0</text>
<line x1="77.43" y1="387.9" x2="77.43" y2="391" stroke="#111" stroke-width="1.0" />
<text x="77.43" y="400.6" font-size="8.3" text-anchor="middle" fill="#222" font-weight="normal" font-style="normal" stroke="#222" stroke-width="0.12" >20</text>
<line x1="100.46000000000001" y1="387.9" x2="100.46000000000001" y2="391" stroke="#111" stroke-width="1.0" />
<text x="100.46000000000001" y="400.6" font-size="8.3" text-anchor="middle" fill="#222" font-weight="normal" font-style="normal" stroke="#222" stroke-width="0.12" >40</text>
<line x1="123.49000000000001" y1="387.9" x2="123.49000000000001" y2="391" stroke="#111" stroke-width="1.0" />
<text x="123.49000000000001" y="400.6" font-size="8.3" text-anchor="middle" fill="#222" font-weight="normal" font-style="normal" stroke="#222" stroke-width="0.12" >60</text>
<line x1="146.52" y1="387.9" x2="146.52" y2="391" stroke="#111" stroke-width="1.0" />
<text x="146.52" y="400.6" font-size="8.3" text-anchor="middle" fill="#222" font-weight="normal" font-style="normal" stroke="#222" stroke-width="0.12" >80</text>
<line x1="169.54999999999998" y1="387.9" x2="169.54999999999998" y2="391" stroke="#111" stroke-width="1.0" />
<text x="169.54999999999998" y="400.6" font-size="8.3" text-anchor="middle" fill="#222" font-weight="normal" font-style="normal" stroke="#222" stroke-width="0.12" >100</text>
<line x1="192.58" y1="387.9" x2="192.58" y2="391" stroke="#111" stroke-width="1.0" />
<text x="192.58" y="400.6" font-size="8.3" text-anchor="middle" fill="#222" font-weight="normal" font-style="normal" stroke="#222" stroke-width="0.12" >120</text>
<line x1="215.61" y1="387.9" x2="215.61" y2="391" stroke="#111" stroke-width="1.0" />
<text x="215.61" y="400.6" font-size="8.3" text-anchor="middle" fill="#222" font-weight="normal" font-style="normal" stroke="#222" stroke-width="0.12" >140</text>
<text transform="translate(27.4,334.4) rotate(-90)" font-size="9.0" text-anchor="middle" fill="#222" stroke="#222" stroke-width="0.2" textLength="38.8" lengthAdjust="spacingAndGlyphs">Survival (%)</text>
<text x="136.4" y="415.2" font-size="9.0" text-anchor="middle" fill="#222" stroke="#222" stroke-width="0.2" textLength="33.3" lengthAdjust="spacingAndGlyphs">EFS (days)</text>
<path d="M54.4,290.60 L215.8,290.60" stroke="#8b6a3e" stroke-width="1.4" fill="none"/>
<line x1="139.7" y1="288.40000000000003" x2="139.7" y2="290.6" stroke="#5a4020" stroke-width="0.8" />
<line x1="211" y1="288.40000000000003" x2="211" y2="290.6" stroke="#5a4020" stroke-width="0.8" />
<line x1="215.8" y1="288.40000000000003" x2="215.8" y2="290.6" stroke="#5a4020" stroke-width="0.8" />
<text x="216.6" y="289.6" font-size="7.5" text-anchor="middle" fill="#222" font-weight="normal" font-style="normal" stroke="#222" stroke-width="0.12" >*</text>
<line x1="54" y1="290.5" x2="128" y2="290.5" stroke="#c4173f" stroke-width="1.4" stroke-dasharray="1 1"/>
<line x1="127.5" y1="290" x2="127.5" y2="323" stroke="#c4173f" stroke-width="1.4" stroke-dasharray="1 1"/>
<line x1="127" y1="322.5" x2="186" y2="322.5" stroke="#c4173f" stroke-width="1.4" stroke-dasharray="1 1"/>
<line x1="186.5" y1="322" x2="186.5" y2="356" stroke="#c4173f" stroke-width="1.4" stroke-dasharray="1 1"/>
<line x1="186" y1="355.5" x2="214" y2="355.5" stroke="#c4173f" stroke-width="1.4" stroke-dasharray="1 1"/>
<line x1="213.5" y1="355" x2="213.5" y2="388" stroke="#c4173f" stroke-width="1.4" stroke-dasharray="1 1"/>
<line x1="54" y1="290.5" x2="73" y2="290.5" stroke="#2c4f9a" stroke-width="1.3" stroke-dasharray="1 1"/>
<line x1="72.5" y1="290" x2="72.5" y2="340" stroke="#2c4f9a" stroke-width="1.3" stroke-dasharray="1 1"/>
<line x1="72" y1="339.5" x2="127" y2="339.5" stroke="#2c4f9a" stroke-width="1.3" stroke-dasharray="1 1"/>
<line x1="126.5" y1="339" x2="126.5" y2="388" stroke="#2c4f9a" stroke-width="1.3" stroke-dasharray="1 1"/>
<path d="M54.40,290.60 L75.20,290.60 L75.20,329.44 L77.50,329.44 L77.50,348.86 L78.50,348.86 L78.50,368.28 L96.90,368.28 L96.90,387.70" stroke="#c4173f" stroke-width="1.4" fill="none"/>
<path d="M54.40,290.60 L68.50,290.60 L68.50,314.88 L69.80,314.88 L69.80,339.15 L77.50,339.15 L77.50,387.70" stroke="#2c4f9a" stroke-width="1.3" fill="none"/>
<text x="81.6" y="366.2" font-size="7.9" fill="#222" stroke="#222" stroke-width="0.1"><tspan font-style="italic">P</tspan>=0.2</text>
<defs>
<filter id="pk5" x="0" y="0" width="100%" height="100%" color-interpolation-filters="sRGB"><feTurbulence type="fractalNoise" baseFrequency="0.7" numOctaves="1" seed="37" result="t"/><feColorMatrix in="t" type="matrix" values="0 0 0 0 0.804 0 0 0 0 0.431 0 0 0 0 0.667 2.4 0 0 0 -1.22"/><feGaussianBlur stdDeviation="0.35"/><feComposite in2="SourceGraphic" operator="in"/></filter>
<filter id="dk5" x="0" y="0" width="100%" height="100%" color-interpolation-filters="sRGB"><feTurbulence type="fractalNoise" baseFrequency="0.6" numOctaves="1" seed="39" result="t"/><feColorMatrix in="t" type="matrix" values="0 0 0 0 0.275 0 0 0 0 0.196 0 0 0 0 0.510 2.2 0 0 0 -1.0"/><feGaussianBlur stdDeviation="0.4"/><feComposite in2="SourceGraphic" operator="in"/></filter>
<filter id="pk6" x="0" y="0" width="100%" height="100%" color-interpolation-filters="sRGB"><feTurbulence type="fractalNoise" baseFrequency="0.7" numOctaves="1" seed="47" result="t"/><feColorMatrix in="t" type="matrix" values="0 0 0 0 0.784 0 0 0 0 0.510 0 0 0 0 0.745 2.2 0 0 0 -1.05"/><feGaussianBlur stdDeviation="0.35"/><feComposite in2="SourceGraphic" operator="in"/></filter>
<filter id="t1" x="0" y="0" width="100%" height="100%" color-interpolation-filters="sRGB"><feTurbulence type="fractalNoise" baseFrequency="0.65" numOctaves="3" seed="3"/><feGaussianBlur stdDeviation="0.55"/><feColorMatrix type="matrix" values="0.6 0.3 0 0 0.091 0.6 -0.05 0 0 0.039 0.6 0.12 0 0 0.252 0 0 0 0 1"/><feComposite in2="SourceGraphic" operator="in"/></filter>
<filter id="t2" x="0" y="0" width="100%" height="100%" color-interpolation-filters="sRGB"><feTurbulence type="fractalNoise" baseFrequency="0.8" numOctaves="3" seed="11"/><feGaussianBlur stdDeviation="0.45"/><feColorMatrix type="matrix" values="0.7 0.25 0 0 0.066 0.7 0.05 0 0 0.103 0.7 0.1 0 0 0.337 0 0 0 0 1"/><feComposite in2="SourceGraphic" operator="in"/></filter>
<filter id="t3" x="0" y="0" width="100%" height="100%" color-interpolation-filters="sRGB"><feTurbulence type="fractalNoise" baseFrequency="0.85" numOctaves="3" seed="17"/><feGaussianBlur stdDeviation="0.45"/><feColorMatrix type="matrix" values="0.5 0.15 0 0 0.514 0.5 0.05 0 0 0.470 0.5 0.08 0 0 0.604 0 0 0 0 1"/><feComposite in2="SourceGraphic" operator="in"/></filter>
<filter id="t4" x="0" y="0" width="100%" height="100%" color-interpolation-filters="sRGB"><feTurbulence type="fractalNoise" baseFrequency="0.65" numOctaves="3" seed="23"/><feGaussianBlur stdDeviation="0.55"/><feColorMatrix type="matrix" values="0.6 0.3 0 0 0.130 0.6 -0.05 0 0 0.078 0.6 0.12 0 0 0.283 0 0 0 0 1"/><feComposite in2="SourceGraphic" operator="in"/></filter>
<filter id="t5" x="0" y="0" width="100%" height="100%" color-interpolation-filters="sRGB"><feTurbulence type="fractalNoise" baseFrequency="0.8" numOctaves="3" seed="31"/><feGaussianBlur stdDeviation="0.45"/><feColorMatrix type="matrix" values="0.8 0.4 0 0 -0.106 0.8 -0.05 0 0 0.041 0.8 0.1 0 0 0.248 0 0 0 0 1"/><feComposite in2="SourceGraphic" operator="in"/></filter>
<filter id="t6" x="0" y="0" width="100%" height="100%" color-interpolation-filters="sRGB"><feTurbulence type="fractalNoise" baseFrequency="0.8" numOctaves="3" seed="41"/><feGaussianBlur stdDeviation="0.45"/><feColorMatrix type="matrix" values="0.7 0.3 0 0 -0.061 0.7 -0.05 0 0 -0.003 0.7 0.12 0 0 0.257 0 0 0 0 1"/><feComposite in2="SourceGraphic" operator="in"/></filter>
<filter id="blur1" x="-50%" y="-50%" width="200%" height="200%"><feGaussianBlur stdDeviation="3"/></filter>
<filter id="blur2" x="-50%" y="-50%" width="200%" height="200%"><feGaussianBlur stdDeviation="0.5"/></filter>
<clipPath id="c1"><rect x="289.5" y="267.7" width="57" height="56.9"/></clipPath>
<clipPath id="c2"><rect x="350.2" y="267.7" width="57" height="56.9"/></clipPath>
<clipPath id="c3"><rect x="410.8" y="267.7" width="57" height="56.9"/></clipPath>
<clipPath id="c4"><rect x="289.5" y="326.9" width="57" height="56.9"/></clipPath>
<clipPath id="c5"><rect x="350.2" y="326.9" width="57" height="56.9"/></clipPath>
<clipPath id="c6"><rect x="410.8" y="326.9" width="57" height="56.9"/></clipPath>
</defs>
<g clip-path="url(#c1)">
<rect x="289.5" y="267.7" width="57" height="56.9" fill="#000" filter="url(#t1)"/>
<ellipse cx="303.5" cy="289.7" rx="14" ry="18" fill="#5a3a8e" opacity="0.45" transform="rotate(0 303.5 289.7)" filter="url(#blur1)"/><ellipse cx="315.5" cy="305.7" rx="14" ry="10" fill="#60408e" opacity="0.35" transform="rotate(0 315.5 305.7)" filter="url(#blur1)"/><ellipse cx="337.5" cy="291.7" rx="10" ry="18" fill="#a85aa8" opacity="0.35" transform="rotate(0 337.5 291.7)" filter="url(#blur1)"/><ellipse cx="329.5" cy="317.7" rx="14" ry="8" fill="#9a54a0" opacity="0.25" transform="rotate(0 329.5 317.7)" filter="url(#blur1)"/>
<path d="M310,310.3 L312.2,306.5 L315,303.4 L319.5,300.8 L325.5,300.2 L331,299.6 L334.5,298.9 L338.4,298.5 L336.8,300.6 L333.2,302.6 L329.2,305.6 L324.5,309 L319.5,312 L316.4,312.9 L312,312.5 Z" fill="#faf3fa" filter="url(#blur2)"/><ellipse cx="317" cy="305.5" rx="1.6" ry="1.1" fill="#b07cc0" opacity="0.8"/><ellipse cx="322" cy="303" rx="1.3" ry="0.9" fill="#a070b8" opacity="0.8"/><ellipse cx="314" cy="309.5" rx="1.1" ry="0.9" fill="#d0a8d8"/><ellipse cx="326.5" cy="304.2" rx="1.1" ry="0.8" fill="#b888c8"/><ellipse cx="319.5" cy="309.3" rx="1.2" ry="0.8" fill="#c8a0d0"/><ellipse cx="309.4" cy="291.4" rx="2.7" ry="1.5" transform="rotate(38 309.4 291.4)" fill="#fbf4fb" filter="url(#blur2)"/><ellipse cx="316.8" cy="275.6" rx="2.8" ry="1.8" fill="#c8a0cc" opacity="0.8" filter="url(#blur2)"/><ellipse cx="296.4" cy="286" rx="1.6" ry="1.6" fill="#a880bc" opacity="0.5" filter="url(#blur2)"/>
</g>
<g clip-path="url(#c2)">
<rect x="350.2" y="267.7" width="57" height="56.9" fill="#000" filter="url(#t2)"/>
<ellipse cx="390.2" cy="297.7" rx="14" ry="18" fill="#7060aa" opacity="0.4" transform="rotate(0 390.2 297.7)" filter="url(#blur1)"/><ellipse cx="359.2" cy="291.7" rx="8" ry="16" fill="#b0a2d4" opacity="0.45" transform="rotate(0 359.2 291.7)" filter="url(#blur1)"/><ellipse cx="380.2" cy="317.7" rx="10" ry="8" fill="#b4a6d6" opacity="0.5" transform="rotate(20 380.2 317.7)" filter="url(#blur1)"/><path d="M372.2,324.7 L376.2,303.7 L384.2,309.7 L398.2,324.7 Z" fill="#b8aad8" opacity="0.55" filter="url(#blur1)"/><ellipse cx="375.2" cy="276.7" rx="14" ry="5" fill="#a090c8" opacity="0.35" transform="rotate(0 375.2 276.7)" filter="url(#blur1)"/>
<ellipse cx="375.7" cy="281" rx="6.6" ry="3.1" transform="rotate(-30 375.7 281)" fill="#e8dcee" opacity="0.85" filter="url(#blur2)"/><ellipse cx="375.7" cy="281" rx="4.4" ry="1.5" transform="rotate(-30 375.7 281)" fill="#c4608e" filter="url(#blur2)"/>
</g>
<g clip-path="url(#c3)">
<rect x="410.8" y="267.7" width="57" height="56.9" fill="#000" filter="url(#t3)"/>

<ellipse cx="459" cy="315" rx="1.5" ry="1.1" fill="#fff"/>
</g>
<g clip-path="url(#c4)">
<rect x="289.5" y="326.9" width="57" height="56.9" fill="#000" filter="url(#t4)"/>
<ellipse cx="327.5" cy="348.9" rx="16" ry="12" fill="#a060a8" opacity="0.25" transform="rotate(0 327.5 348.9)" filter="url(#blur1)"/><ellipse cx="303.5" cy="366.9" rx="12" ry="12" fill="#7a4090" opacity="0.25" transform="rotate(0 303.5 366.9)" filter="url(#blur1)"/>
<ellipse cx="297.5" cy="338.9" rx="2.4" ry="1.8" fill="#f4eaf4" filter="url(#blur2)"/>
</g>
<g clip-path="url(#c5)">
<rect x="350.2" y="326.9" width="57" height="56.9" fill="#000" filter="url(#t5)"/>
<ellipse cx="395.2" cy="346.9" rx="10" ry="14" fill="#6a5aa8" opacity="0.35" transform="rotate(0 395.2 346.9)" filter="url(#blur1)"/><ellipse cx="375.2" cy="356.9" rx="12" ry="10" fill="#a090c8" opacity="0.3" transform="rotate(0 375.2 356.9)" filter="url(#blur1)"/><ellipse cx="402.2" cy="368.9" rx="6" ry="10" fill="#6a58a8" opacity="0.35" transform="rotate(0 402.2 368.9)" filter="url(#blur1)"/><rect x="350.2" y="326.9" width="57" height="56.9" filter="url(#pk5)"/><rect x="350.2" y="326.9" width="57" height="56.9" filter="url(#dk5)"/>

</g>
<g clip-path="url(#c6)">
<rect x="410.8" y="326.9" width="57" height="56.9" fill="#000" filter="url(#t6)"/>
<path d="M412.8,330.9 L424.8,328.9 L460.8,372.9 L450.8,380.9 Z" fill="#a882c4" opacity="0.55" filter="url(#blur1)"/><ellipse cx="450.8" cy="342.9" rx="16" ry="14" fill="#5a3c9c" opacity="0.5" transform="rotate(0 450.8 342.9)" filter="url(#blur1)"/><ellipse cx="422.8" cy="368.9" rx="12" ry="12" fill="#5a3e9c" opacity="0.45" transform="rotate(0 422.8 368.9)" filter="url(#blur1)"/>

</g>
<line x1="320.8" y1="322" x2="344.6" y2="322" stroke="#111" stroke-width="1.3" />
<line x1="381.2" y1="322" x2="405" y2="322" stroke="#111" stroke-width="1.3" />
<line x1="441.5" y1="322" x2="466.5" y2="322" stroke="#111" stroke-width="1.3" />
<line x1="320.8" y1="381.5" x2="344.6" y2="381.5" stroke="#111" stroke-width="1.3" />
<line x1="380.8" y1="381.4" x2="405" y2="381.4" stroke="#111" stroke-width="1.3" />
<line x1="442" y1="381.4" x2="466.5" y2="381.4" stroke="#111" stroke-width="1.3" />
<text x="317.4" y="264.3" font-size="6.6" text-anchor="middle" fill="#222" font-weight="normal" font-style="normal" stroke="#222" stroke-width="0.12" >MLL-AF9 + NRas</text>
<text x="379.7" y="264.3" font-size="6.6" text-anchor="middle" fill="#222" font-weight="normal" font-style="normal" stroke="#222" stroke-width="0.12" >MLL-TFE3 + NRas</text>
<text x="438.3" y="264.3" font-size="6.6" text-anchor="middle" fill="#222" font-weight="normal" font-style="normal" stroke="#222" stroke-width="0.12" >Control</text>
<line x1="292" y1="265.5" x2="342.8" y2="265.5" stroke="#333" stroke-width="0.8"/>
<line x1="353" y1="265.5" x2="406.5" y2="265.5" stroke="#333" stroke-width="0.8"/>
<line x1="427.7" y1="265.5" x2="448.9" y2="265.5" stroke="#333" stroke-width="0.8"/>
<text x="287.8" y="298.6" font-size="7.3" text-anchor="end" fill="#222" font-weight="normal" font-style="normal" stroke="#222" stroke-width="0.12" >Liver</text>
<text x="287.8" y="351.3" font-size="7.4" text-anchor="end" fill="#222" font-weight="normal" font-style="normal" stroke="#222" stroke-width="0.12" >Spleen</text>
<text x="116.6" y="438.7" font-size="9.4" text-anchor="middle" fill="#111" font-weight="normal" font-style="normal" stroke="#111" stroke-width="0.12" >MLL-TFE3</text>
<line x1="54.4" y1="450.4" x2="54.4" y2="523.1" stroke="#111" stroke-width="1.2" />
<line x1="53.8" y1="522.6" x2="170.2" y2="522.6" stroke="#111" stroke-width="1.2" />
<line x1="51.6" y1="515.5" x2="54.4" y2="515.5" stroke="#111" stroke-width="0.9" />
<text x="48.2" y="518.5" font-size="8.4" text-anchor="end" fill="#222" font-weight="normal" font-style="normal" stroke="#222" stroke-width="0.12" >0</text>
<line x1="51.6" y1="503.0" x2="54.4" y2="503.0" stroke="#111" stroke-width="0.9" />
<text x="48.2" y="506.0" font-size="8.4" text-anchor="end" fill="#222" font-weight="normal" font-style="normal" stroke="#222" stroke-width="0.12" >20</text>
<line x1="51.6" y1="490.5" x2="54.4" y2="490.5" stroke="#111" stroke-width="0.9" />
<text x="48.2" y="493.5" font-size="8.4" text-anchor="end" fill="#222" font-weight="normal" font-style="normal" stroke="#222" stroke-width="0.12" >40</text>
<line x1="51.6" y1="478.0" x2="54.4" y2="478.0" stroke="#111" stroke-width="0.9" />
<text x="48.2" y="481.0" font-size="8.4" text-anchor="end" fill="#222" font-weight="normal" font-style="normal" stroke="#222" stroke-width="0.12" >60</text>
<line x1="51.6" y1="465.5" x2="54.4" y2="465.5" stroke="#111" stroke-width="0.9" />
<text x="48.2" y="468.5" font-size="8.4" text-anchor="end" fill="#222" font-weight="normal" font-style="normal" stroke="#222" stroke-width="0.12" >80</text>
<line x1="51.6" y1="453.0" x2="54.4" y2="453.0" stroke="#111" stroke-width="0.9" />
<text x="48.2" y="456.0" font-size="8.4" text-anchor="end" fill="#222" font-weight="normal" font-style="normal" stroke="#222" stroke-width="0.12" >100</text>
<text x="57.4" y="459.6" font-size="7.4" text-anchor="start" fill="#222" font-weight="normal" font-style="normal" stroke="#222" stroke-width="0.12" >Myeloid</text>
<line x1="57.4" y1="460.5" x2="83" y2="460.5" stroke="#333" stroke-width="0.8"/>
<text transform="translate(27.6,484.25) rotate(-90)" font-size="9.0" text-anchor="middle" fill="#222" stroke="#222" stroke-width="0.2" textLength="54" lengthAdjust="spacingAndGlyphs">Stained cells (%)</text>
<text x="63.3" y="533.4" font-size="8.0" text-anchor="end" fill="#222" font-weight="normal" font-style="normal" stroke="#222" stroke-width="0.12" >Dox:</text>
<text x="71.5" y="533.4" font-size="8.0" text-anchor="middle" fill="#222" font-weight="normal" font-style="normal" stroke="#222" stroke-width="0.12" >-</text>
<text x="86.3" y="533.4" font-size="8.0" text-anchor="middle" fill="#222" font-weight="normal" font-style="normal" stroke="#222" stroke-width="0.12" >+</text>
<text x="105.6" y="533.4" font-size="8.0" text-anchor="middle" fill="#222" font-weight="normal" font-style="normal" stroke="#222" stroke-width="0.12" >-</text>
<text x="120.2" y="533.4" font-size="8.0" text-anchor="middle" fill="#222" font-weight="normal" font-style="normal" stroke="#222" stroke-width="0.12" >+</text>
<text x="139.2" y="533.4" font-size="8.0" text-anchor="middle" fill="#222" font-weight="normal" font-style="normal" stroke="#222" stroke-width="0.12" >-</text>
<text x="154" y="533.4" font-size="8.0" text-anchor="middle" fill="#222" font-weight="normal" font-style="normal" stroke="#222" stroke-width="0.12" >+</text>
<line x1="66.1" y1="536.6" x2="91.5" y2="536.6" stroke="#666" stroke-width="1.4" />
<text x="79" y="545.6" font-size="8.2" text-anchor="middle" fill="#222" font-weight="normal" font-style="normal" stroke="#222" stroke-width="0.12" >GR1+</text>
<line x1="100.1" y1="536.6" x2="125.4" y2="536.6" stroke="#666" stroke-width="1.4" />
<text x="112.6" y="545.6" font-size="8.2" text-anchor="middle" fill="#222" font-weight="normal" font-style="normal" stroke="#222" stroke-width="0.12" >CD11b+</text>
<line x1="133.9" y1="536.6" x2="160" y2="536.6" stroke="#666" stroke-width="1.4" />
<text x="146.9" y="545.6" font-size="8.2" text-anchor="middle" fill="#222" font-weight="normal" font-style="normal" stroke="#222" stroke-width="0.12" >D.P.</text>
<line x1="66.7" y1="515.5" x2="76.7" y2="515.5" stroke="#151515" stroke-width="1.2" />
<circle cx="68" cy="515.5" r="1.75" fill="#a8122e"/>
<circle cx="70" cy="515.3" r="1.75" fill="#a8122e"/>
<circle cx="72" cy="515" r="1.75" fill="#a8122e"/>
<circle cx="74.5" cy="514" r="1.75" fill="#a8122e"/>
<circle cx="73" cy="515.5" r="1.75" fill="#a8122e"/>
<circle cx="75.5" cy="515.5" r="1.75" fill="#a8122e"/>
<circle cx="71" cy="514.6" r="1.75" fill="#a8122e"/>
<line x1="82.0" y1="515.5" x2="92.0" y2="515.5" stroke="#151515" stroke-width="1.2" />
<rect x="82.0" y="514.1" width="3" height="3" fill="none" stroke="#a8122e" stroke-width="0.7"/>
<rect x="84.5" y="513.8" width="3" height="3" fill="none" stroke="#a8122e" stroke-width="0.7"/>
<rect x="86.5" y="514.1" width="3" height="3" fill="none" stroke="#a8122e" stroke-width="0.7"/>
<rect x="89.0" y="513.1" width="3" height="3" fill="none" stroke="#a8122e" stroke-width="0.7"/>
<rect x="85.5" y="513.3" width="3" height="3" fill="none" stroke="#a8122e" stroke-width="0.7"/>
<line x1="100.45" y1="484.5" x2="110.55" y2="484.5" stroke="#151515" stroke-width="1.2" />
<circle cx="105.4" cy="467.1" r="1.75" fill="#a8122e"/>
<circle cx="105.4" cy="473.2" r="1.75" fill="#a8122e"/>
<circle cx="105.4" cy="478.6" r="1.75" fill="#a8122e"/>
<circle cx="103.4" cy="491.3" r="1.75" fill="#a8122e"/>
<circle cx="107.5" cy="495.4" r="1.75" fill="#a8122e"/>
<circle cx="105.4" cy="500.4" r="1.75" fill="#a8122e"/>
<line x1="115.55" y1="497.5" x2="125.64999999999999" y2="497.5" stroke="#151515" stroke-width="1.2" />
<circle cx="120.6" cy="484.7" r="1.8" fill="none" stroke="#a8122e" stroke-width="0.8"/>
<circle cx="120.6" cy="489.7" r="1.8" fill="none" stroke="#a8122e" stroke-width="0.8"/>
<circle cx="120.6" cy="497" r="1.8" fill="none" stroke="#a8122e" stroke-width="0.8"/>
<circle cx="118.6" cy="502" r="1.8" fill="none" stroke="#a8122e" stroke-width="0.8"/>
<circle cx="123" cy="503.1" r="1.8" fill="none" stroke="#a8122e" stroke-width="0.8"/>
<circle cx="120.6" cy="508.9" r="1.8" fill="none" stroke="#a8122e" stroke-width="0.8"/>
<polygon points="139.2,476.6 137.29999999999998,480.1 141.1,480.1" fill="#a8122e"/>
<polygon points="141.2,479.9 139.29999999999998,483.4 143.1,483.4" fill="#a8122e"/>
<polygon points="137.1,483.7 135.2,487.2 139.0,487.2" fill="#a8122e"/>
<polygon points="137.1,492.4 135.2,495.9 139.0,495.9" fill="#a8122e"/>
<polygon points="141.2,495 139.29999999999998,498.5 143.1,498.5" fill="#a8122e"/>
<polygon points="139.2,501.1 137.29999999999998,504.6 141.1,504.6" fill="#a8122e"/>
<line x1="149.45" y1="475.5" x2="159.55" y2="475.5" stroke="#151515" stroke-width="1.2" />
<polygon points="154.3,460.0 152.35000000000002,463.6 156.25,463.6" fill="none" stroke="#a8122e" stroke-width="0.8"/>
<polygon points="151.3,472.09999999999997 149.35000000000002,475.7 153.25,475.7" fill="none" stroke="#a8122e" stroke-width="0.8"/>
<polygon points="154.3,472.09999999999997 152.35000000000002,475.7 156.25,475.7" fill="none" stroke="#a8122e" stroke-width="0.8"/>
<polygon points="157.7,472.09999999999997 155.75,475.7 159.64999999999998,475.7" fill="none" stroke="#a8122e" stroke-width="0.8"/>
<polygon points="154.3,478.09999999999997 152.35000000000002,481.7 156.25,481.7" fill="none" stroke="#a8122e" stroke-width="0.8"/>
<polygon points="154.3,483.59999999999997 152.35000000000002,487.2 156.25,487.2" fill="none" stroke="#a8122e" stroke-width="0.8"/>
<line x1="94.39999999999999" y1="439.5" x2="138.79999999999998" y2="439.5" stroke="#222" stroke-width="0.9"/>
<line x1="134.1" y1="489.7" x2="144.2" y2="489.7" stroke="#555" stroke-width="1.4" />
<text x="117.1" y="569.2" font-size="9.4" text-anchor="middle" fill="#111" font-weight="normal" font-style="normal" stroke="#111" stroke-width="0.12" >MLL-AF9</text>
<line x1="54.4" y1="576.8" x2="54.4" y2="648.2" stroke="#111" stroke-width="1.2" />
<line x1="53.8" y1="647.7" x2="170.2" y2="647.7" stroke="#111" stroke-width="1.2" />
<line x1="51.6" y1="641.4" x2="54.4" y2="641.4" stroke="#111" stroke-width="0.9" />
<text x="48.2" y="644.4" font-size="8.4" text-anchor="end" fill="#222" font-weight="normal" font-style="normal" stroke="#222" stroke-width="0.12" >0</text>
<line x1="51.6" y1="629.0" x2="54.4" y2="629.0" stroke="#111" stroke-width="0.9" />
<text x="48.2" y="632.0" font-size="8.4" text-anchor="end" fill="#222" font-weight="normal" font-style="normal" stroke="#222" stroke-width="0.12" >20</text>
<line x1="51.6" y1="616.6" x2="54.4" y2="616.6" stroke="#111" stroke-width="0.9" />
<text x="48.2" y="619.6" font-size="8.4" text-anchor="end" fill="#222" font-weight="normal" font-style="normal" stroke="#222" stroke-width="0.12" >40</text>
<line x1="51.6" y1="604.1999999999999" x2="54.4" y2="604.1999999999999" stroke="#111" stroke-width="0.9" />
<text x="48.2" y="607.1999999999999" font-size="8.4" text-anchor="end" fill="#222" font-weight="normal" font-style="normal" stroke="#222" stroke-width="0.12" >60</text>
<line x1="51.6" y1="591.8" x2="54.4" y2="591.8" stroke="#111" stroke-width="0.9" />
<text x="48.2" y="594.8" font-size="8.4" text-anchor="end" fill="#222" font-weight="normal" font-style="normal" stroke="#222" stroke-width="0.12" >80</text>
<line x1="51.6" y1="579.4" x2="54.4" y2="579.4" stroke="#111" stroke-width="0.9" />
<text x="48.2" y="582.4" font-size="8.4" text-anchor="end" fill="#222" font-weight="normal" font-style="normal" stroke="#222" stroke-width="0.12" >100</text>
<text x="57.4" y="586.0" font-size="7.4" text-anchor="start" fill="#222" font-weight="normal" font-style="normal" stroke="#222" stroke-width="0.12" >Myeloid</text>
<line x1="57.4" y1="587.5" x2="83" y2="587.5" stroke="#333" stroke-width="0.8"/>
<text transform="translate(27.6,610.40) rotate(-90)" font-size="9.0" text-anchor="middle" fill="#222" stroke="#222" stroke-width="0.2" textLength="54" lengthAdjust="spacingAndGlyphs">Stained cells (%)</text>
<text x="63.3" y="659.2" font-size="8.0" text-anchor="end" fill="#222" font-weight="normal" font-style="normal" stroke="#222" stroke-width="0.12" >Dox:</text>
<text x="71.5" y="659.2" font-size="8.0" text-anchor="middle" fill="#222" font-weight="normal" font-style="normal" stroke="#222" stroke-width="0.12" >-</text>
<text x="86.3" y="659.2" font-size="8.0" text-anchor="middle" fill="#222" font-weight="normal" font-style="normal" stroke="#222" stroke-width="0.12" >+</text>
<text x="105.6" y="659.2" font-size="8.0" text-anchor="middle" fill="#222" font-weight="normal" font-style="normal" stroke="#222" stroke-width="0.12" >-</text>
<text x="120.2" y="659.2" font-size="8.0" text-anchor="middle" fill="#222" font-weight="normal" font-style="normal" stroke="#222" stroke-width="0.12" >+</text>
<text x="139.2" y="659.2" font-size="8.0" text-anchor="middle" fill="#222" font-weight="normal" font-style="normal" stroke="#222" stroke-width="0.12" >-</text>
<text x="154" y="659.2" font-size="8.0" text-anchor="middle" fill="#222" font-weight="normal" font-style="normal" stroke="#222" stroke-width="0.12" >+</text>
<line x1="66.1" y1="662.4" x2="91.5" y2="662.4" stroke="#666" stroke-width="1.4" />
<text x="79" y="671.6" font-size="8.2" text-anchor="middle" fill="#222" font-weight="normal" font-style="normal" stroke="#222" stroke-width="0.12" >GR1+</text>
<line x1="100.1" y1="662.4" x2="125.4" y2="662.4" stroke="#666" stroke-width="1.4" />
<text x="112.6" y="671.6" font-size="8.2" text-anchor="middle" fill="#222" font-weight="normal" font-style="normal" stroke="#222" stroke-width="0.12" >CD11b+</text>
<line x1="133.9" y1="662.4" x2="160" y2="662.4" stroke="#666" stroke-width="1.4" />
<text x="146.9" y="671.6" font-size="8.2" text-anchor="middle" fill="#222" font-weight="normal" font-style="normal" stroke="#222" stroke-width="0.12" >D.P.</text>
<line x1="66.0" y1="641.5" x2="75.0" y2="641.5" stroke="#151515" stroke-width="1.2" />
<circle cx="67" cy="641.4" r="1.75" fill="#1f3f82"/>
<circle cx="69.5" cy="641.6" r="1.75" fill="#1f3f82"/>
<circle cx="72" cy="641.4" r="1.75" fill="#1f3f82"/>
<circle cx="74" cy="641.2" r="1.75" fill="#1f3f82"/>
<circle cx="70.8" cy="641" r="1.75" fill="#1f3f82"/>
<line x1="82.0" y1="641.5" x2="91.0" y2="641.5" stroke="#151515" stroke-width="1.2" />
<circle cx="82.6" cy="641.4" r="1.8" fill="none" stroke="#1f3f82" stroke-width="0.8"/>
<circle cx="85.5" cy="641.4" r="1.8" fill="none" stroke="#1f3f82" stroke-width="0.8"/>
<circle cx="88.2" cy="641.4" r="1.8" fill="none" stroke="#1f3f82" stroke-width="0.8"/>
<circle cx="90.6" cy="641.4" r="1.8" fill="none" stroke="#1f3f82" stroke-width="0.8"/>
<line x1="99.8" y1="604.5" x2="110.8" y2="604.5" stroke="#151515" stroke-width="1.2" />
<circle cx="104.7" cy="595.4" r="1.75" fill="#1f3f82"/>
<circle cx="103.1" cy="601.8" r="1.75" fill="#1f3f82"/>
<circle cx="107.5" cy="605.2" r="1.75" fill="#1f3f82"/>
<circle cx="105.3" cy="615.8" r="1.75" fill="#1f3f82"/>
<line x1="115.1" y1="608.5" x2="126.1" y2="608.5" stroke="#151515" stroke-width="1.2" />
<circle cx="120.6" cy="598.2" r="1.8" fill="none" stroke="#1f3f82" stroke-width="0.8"/>
<circle cx="120.6" cy="601.8" r="1.8" fill="none" stroke="#1f3f82" stroke-width="0.8"/>
<circle cx="118.7" cy="615" r="1.8" fill="none" stroke="#1f3f82" stroke-width="0.8"/>
<circle cx="122.9" cy="614.4" r="1.8" fill="none" stroke="#1f3f82" stroke-width="0.8"/>
<line x1="134.6" y1="618.5" x2="145.20000000000002" y2="618.5" stroke="#151515" stroke-width="1.2" />
<polygon points="139.6,606 137.7,609.5 141.5,609.5" fill="#1f3f82"/>
<polygon points="139.6,613.8 137.7,617.3 141.5,617.3" fill="#1f3f82"/>
<polygon points="141.5,619.9 139.6,623.4 143.4,623.4" fill="#1f3f82"/>
<polygon points="136.8,624.1 134.9,627.6 138.70000000000002,627.6" fill="#1f3f82"/>
<line x1="149.35" y1="613.5" x2="159.65" y2="613.5" stroke="#151515" stroke-width="1.2" />
<polygon points="152.7,603.1 150.75,606.7 154.64999999999998,606.7" fill="none" stroke="#1f3f82" stroke-width="0.8"/>
<polygon points="156.9,603.9 154.95000000000002,607.5 158.85,607.5" fill="none" stroke="#1f3f82" stroke-width="0.8"/>
<polygon points="156.9,616.1999999999999 154.95000000000002,619.8 158.85,619.8" fill="none" stroke="#1f3f82" stroke-width="0.8"/>
<polygon points="152.7,619.8 150.75,623.4 154.64999999999998,623.4" fill="none" stroke="#1f3f82" stroke-width="0.8"/>
<line x1="96.85" y1="570.5" x2="137.35" y2="570.5" stroke="#222" stroke-width="0.9"/>
<text x="325.6" y="438.7" font-size="9.5" text-anchor="middle" fill="#111" font-weight="normal" font-style="normal" stroke="#111" stroke-width="0.12" >Birinapant</text>
<line x1="304.35" y1="439.5" x2="346.85" y2="439.5" stroke="#222" stroke-width="0.9"/>
<line x1="263.7" y1="441.5" x2="263.7" y2="523.5" stroke="#111" stroke-width="1.3" />
<line x1="263.1" y1="522.9" x2="387.2" y2="522.9" stroke="#111" stroke-width="1.3" />
<line x1="260.6" y1="514.6" x2="263.7" y2="514.6" stroke="#111" stroke-width="1.0" />
<text x="257.4" y="517.6" font-size="8.3" text-anchor="end" fill="#222" font-weight="normal" font-style="normal" stroke="#222" stroke-width="0.12" >0</text>
<line x1="260.6" y1="484.15" x2="263.7" y2="484.15" stroke="#111" stroke-width="1.0" />
<text x="257.4" y="487.15" font-size="8.3" text-anchor="end" fill="#222" font-weight="normal" font-style="normal" stroke="#222" stroke-width="0.12" >50</text>
<line x1="260.6" y1="453.7" x2="263.7" y2="453.7" stroke="#111" stroke-width="1.0" />
<text x="257.4" y="456.7" font-size="8.3" text-anchor="end" fill="#222" font-weight="normal" font-style="normal" stroke="#222" stroke-width="0.12" >100</text>
<line x1="271.3" y1="522.9" x2="271.3" y2="525.9" stroke="#111" stroke-width="1.0" />
<text x="271.3" y="537.2" font-size="8.3" text-anchor="middle" fill="#222" font-weight="normal" font-style="normal" stroke="#222" stroke-width="0.12" >0</text>
<line x1="309.2" y1="522.9" x2="309.2" y2="525.9" stroke="#111" stroke-width="1.0" />
<text x="309.2" y="537.2" font-size="8.3" text-anchor="middle" fill="#222" font-weight="normal" font-style="normal" stroke="#222" stroke-width="0.12" >1</text>
<line x1="347.1" y1="522.9" x2="347.1" y2="525.9" stroke="#111" stroke-width="1.0" />
<text x="347.1" y="537.2" font-size="8.3" text-anchor="middle" fill="#222" font-weight="normal" font-style="normal" stroke="#222" stroke-width="0.12" >2</text>
<line x1="385.0" y1="522.9" x2="385.0" y2="525.9" stroke="#111" stroke-width="1.0" />
<text x="385.0" y="537.2" font-size="8.3" text-anchor="middle" fill="#222" font-weight="normal" font-style="normal" stroke="#222" stroke-width="0.12" >3</text>
<text transform="translate(236.1,482) rotate(-90)" font-size="9.0" text-anchor="middle" fill="#1a1a1a" stroke="#1a1a1a" stroke-width="0.2" textLength="32" lengthAdjust="spacingAndGlyphs">% viability</text>
<text x="325.6" y="550.6" font-size="9.3" text-anchor="middle" fill="#1a1a1a" stroke="#1a1a1a" stroke-width="0.2" textLength="26.0" lengthAdjust="spacingAndGlyphs">Log[nM]</text>
<polyline points="271.30,453.70 272.56,453.70 273.83,453.70 275.09,453.70 276.35,453.70 277.62,453.70 278.88,453.71 280.14,453.71 281.41,453.71 282.67,453.71 283.93,453.71 285.20,453.71 286.46,453.71 287.72,453.71 288.99,453.72 290.25,453.72 291.51,453.72 292.78,453.72 294.04,453.73 295.30,453.73 296.57,453.73 297.83,453.74 299.09,453.74 300.36,453.75 301.62,453.76 302.88,453.77 304.15,453.78 305.41,453.79 306.67,453.80 307.94,453.81 309.20,453.83 310.46,453.85 311.73,453.87 312.99,453.89 314.25,453.92 315.52,453.95 316.78,453.99 318.04,454.03 319.31,454.07 320.57,454.12 321.83,454.18 323.10,454.25 324.36,454.33 325.62,454.42 326.89,454.52 328.15,454.63 329.41,454.76 330.68,454.91 331.94,455.08 333.20,455.27 334.47,455.49 335.73,455.73 336.99,456.01 338.26,456.32 339.52,456.68 340.78,457.08 342.05,457.53 343.31,458.03 344.57,458.60 345.84,459.23 347.10,459.94 348.36,460.72 349.63,461.59 350.89,462.54 352.15,463.60 353.42,464.75 354.68,466.00 355.94,467.35 357.21,468.81 358.47,470.37 359.73,472.02 361.00,473.77 362.26,475.59 363.52,477.49 364.79,479.44 366.05,481.43 367.31,483.44 368.58,485.46 369.84,487.47 371.10,489.45 372.37,491.39 373.63,493.26 374.89,495.06 376.16,496.78 377.42,498.41 378.68,499.94 379.95,501.37 381.21,502.69 382.47,503.91 383.74,505.03 385.00,506.05" fill="none" stroke="#2a4e96" stroke-width="1.3" />
<polyline points="271.30,453.21 272.56,453.22 273.83,453.23 275.09,453.24 276.35,453.25 277.62,453.27 278.88,453.28 280.14,453.30 281.41,453.32 282.67,453.34 283.93,453.36 285.20,453.38 286.46,453.41 287.72,453.44 288.99,453.47 290.25,453.50 291.51,453.53 292.78,453.57 294.04,453.62 295.30,453.66 296.57,453.71 297.83,453.76 299.09,453.82 300.36,453.89 301.62,453.96 302.88,454.03 304.15,454.11 305.41,454.20 306.67,454.30 307.94,454.40 309.20,454.51 310.46,454.64 311.73,454.77 312.99,454.91 314.25,455.07 315.52,455.23 316.78,455.41 318.04,455.61 319.31,455.82 320.57,456.05 321.83,456.30 323.10,456.56 324.36,456.85 325.62,457.16 326.89,457.49 328.15,457.85 329.41,458.23 330.68,458.65 331.94,459.09 333.20,459.56 334.47,460.06 335.73,460.60 336.99,461.17 338.26,461.78 339.52,462.43 340.78,463.11 342.05,463.84 343.31,464.60 344.57,465.41 345.84,466.26 347.10,467.15 348.36,468.08 349.63,469.05 350.89,470.06 352.15,471.11 353.42,472.19 354.68,473.31 355.94,474.46 357.21,475.64 358.47,476.84 359.73,478.07 361.00,479.31 362.26,480.57 363.52,481.84 364.79,483.11 366.05,484.38 367.31,485.65 368.58,486.91 369.84,488.16 371.10,489.38 372.37,490.59 373.63,491.78 374.89,492.93 376.16,494.06 377.42,495.15 378.68,496.20 379.95,497.22 381.21,498.20 382.47,499.14 383.74,500.04 385.00,500.89" fill="none" stroke="#c0163c" stroke-width="1.35" />
<polyline points="271.30,456.85 272.56,456.95 273.83,457.06 275.09,457.19 276.35,457.32 277.62,457.47 278.88,457.63 280.14,457.81 281.41,458.00 282.67,458.21 283.93,458.43 285.20,458.68 286.46,458.95 287.72,459.25 288.99,459.56 290.25,459.91 291.51,460.28 292.78,460.69 294.04,461.13 295.30,461.60 296.57,462.11 297.83,462.66 299.09,463.25 300.36,463.89 301.62,464.56 302.88,465.29 304.15,466.06 305.41,466.88 306.67,467.75 307.94,468.67 309.20,469.64 310.46,470.66 311.73,471.72 312.99,472.84 314.25,474.00 315.52,475.20 316.78,476.45 318.04,477.73 319.31,479.04 320.57,480.38 321.83,481.74 323.10,483.12 324.36,484.51 325.62,485.91 326.89,487.30 328.15,488.69 329.41,490.06 330.68,491.41 331.94,492.74 333.20,494.05 334.47,495.31 335.73,496.54 336.99,497.73 338.26,498.87 339.52,499.97 340.78,501.02 342.05,502.02 343.31,502.97 344.57,503.87 345.84,504.72 347.10,505.53 348.36,506.28 349.63,506.98 350.89,507.64 352.15,508.26 353.42,508.84 354.68,509.37 355.94,509.87 357.21,510.33 358.47,510.75 359.73,511.15 361.00,511.51 362.26,511.84 363.52,512.15 364.79,512.44 366.05,512.70 367.31,512.94 368.58,513.16 369.84,513.36 371.10,513.55 372.37,513.72 373.63,513.87 374.89,514.02 376.16,514.15 377.42,514.27 378.68,514.37 379.95,514.47 381.21,514.57 382.47,514.65 383.74,514.73 385.00,514.79" fill="none" stroke="#2a4e96" stroke-width="1.15" stroke-dasharray="1.15 1.0"/>
<polyline points="271.30,465.82 272.56,466.33 273.83,466.88 275.09,467.46 276.35,468.08 277.62,468.73 278.88,469.42 280.14,470.15 281.41,470.91 282.67,471.71 283.93,472.54 285.20,473.41 286.46,474.32 287.72,475.26 288.99,476.24 290.25,477.24 291.51,478.28 292.78,479.34 294.04,480.42 295.30,481.52 296.57,482.64 297.83,483.78 299.09,484.92 300.36,486.07 301.62,487.22 302.88,488.37 304.15,489.51 305.41,490.64 306.67,491.75 307.94,492.85 309.20,493.93 310.46,494.98 311.73,496.01 312.99,497.01 314.25,497.97 315.52,498.91 316.78,499.81 318.04,500.67 319.31,501.49 320.57,502.28 321.83,503.04 323.10,503.75 324.36,504.43 325.62,505.07 326.89,505.68 328.15,506.25 329.41,506.79 330.68,507.30 331.94,507.78 333.20,508.22 334.47,508.64 335.73,509.03 336.99,509.40 338.26,509.74 339.52,510.05 340.78,510.35 342.05,510.62 343.31,510.88 344.57,511.12 345.84,511.33 347.10,511.54 348.36,511.73 349.63,511.90 350.89,512.06 352.15,512.21 353.42,512.35 354.68,512.48 355.94,512.60 357.21,512.71 358.47,512.81 359.73,512.90 361.00,512.99 362.26,513.07 363.52,513.14 364.79,513.21 366.05,513.27 367.31,513.33 368.58,513.38 369.84,513.43 371.10,513.47 372.37,513.51 373.63,513.55 374.89,513.59 376.16,513.62 377.42,513.65 378.68,513.68 379.95,513.70 381.21,513.72 382.47,513.75 383.74,513.77 385.00,513.78" fill="none" stroke="#c0163c" stroke-width="1.15" stroke-dasharray="1.15 1.0"/>
<line x1="316.78000000000003" y1="473.40000000000003" x2="316.78000000000003" y2="477.8" stroke="#2a4e96" stroke-width="0.7" />
<line x1="315.58000000000004" y1="473.40000000000003" x2="317.98" y2="473.40000000000003" stroke="#2a4e96" stroke-width="0.7" />
<line x1="315.58000000000004" y1="477.8" x2="317.98" y2="477.8" stroke="#2a4e96" stroke-width="0.7" />
<line x1="362.26" y1="474.3" x2="362.26" y2="480.7" stroke="#2a4e96" stroke-width="0.7" />
<line x1="361.06" y1="474.3" x2="363.46" y2="474.3" stroke="#2a4e96" stroke-width="0.7" />
<line x1="361.06" y1="480.7" x2="363.46" y2="480.7" stroke="#2a4e96" stroke-width="0.7" />
<line x1="362.26" y1="477.79999999999995" x2="362.26" y2="483.0" stroke="#c0163c" stroke-width="0.7" />
<line x1="361.06" y1="477.79999999999995" x2="363.46" y2="477.79999999999995" stroke="#c0163c" stroke-width="0.7" />
<line x1="361.06" y1="483.0" x2="363.46" y2="483.0" stroke="#c0163c" stroke-width="0.7" />
<line x1="385.0" y1="498.6" x2="385.0" y2="502.6" stroke="#c0163c" stroke-width="0.7" />
<line x1="383.8" y1="498.6" x2="386.2" y2="498.6" stroke="#c0163c" stroke-width="0.7" />
<line x1="383.8" y1="502.6" x2="386.2" y2="502.6" stroke="#c0163c" stroke-width="0.7" />
<line x1="339.52" y1="498.7" x2="339.52" y2="501.7" stroke="#2a4e96" stroke-width="0.7" />
<line x1="338.32" y1="498.7" x2="340.71999999999997" y2="498.7" stroke="#2a4e96" stroke-width="0.7" />
<line x1="338.32" y1="501.7" x2="340.71999999999997" y2="501.7" stroke="#2a4e96" stroke-width="0.7" />
<circle cx="271.30" cy="455.60" r="1.55" fill="#fff" stroke="#2a4e96" stroke-width="0.75"/>
<circle cx="294.04" cy="463.10" r="1.55" fill="#fff" stroke="#2a4e96" stroke-width="0.75"/>
<circle cx="316.78" cy="475.60" r="1.55" fill="#fff" stroke="#2a4e96" stroke-width="0.75"/>
<circle cx="339.52" cy="500.20" r="1.55" fill="#fff" stroke="#2a4e96" stroke-width="0.75"/>
<circle cx="362.26" cy="513.10" r="1.55" fill="#fff" stroke="#2a4e96" stroke-width="0.75"/>
<circle cx="385.00" cy="514.00" r="1.55" fill="#fff" stroke="#2a4e96" stroke-width="0.75"/>
<rect x="269.75" y="464.25" width="3.1" height="3.1" fill="#fff" stroke="#c0163c" stroke-width="0.75"/>
<rect x="292.49" y="478.85" width="3.1" height="3.1" fill="#fff" stroke="#c0163c" stroke-width="0.75"/>
<rect x="315.23" y="498.25" width="3.1" height="3.1" fill="#fff" stroke="#c0163c" stroke-width="0.75"/>
<rect x="337.97" y="508.45" width="3.1" height="3.1" fill="#fff" stroke="#c0163c" stroke-width="0.75"/>
<rect x="360.71" y="511.55" width="3.1" height="3.1" fill="#fff" stroke="#c0163c" stroke-width="0.75"/>
<rect x="383.45" y="512.15" width="3.1" height="3.1" fill="#fff" stroke="#c0163c" stroke-width="0.75"/>
<rect x="269.65" y="450.45" width="3.3" height="3.3" fill="#c0163c"/>
<rect x="292.39" y="452.05" width="3.3" height="3.3" fill="#c0163c"/>
<rect x="315.13" y="452.75" width="3.3" height="3.3" fill="#c0163c"/>
<rect x="337.87" y="460.45" width="3.3" height="3.3" fill="#c0163c"/>
<rect x="360.61" y="478.75" width="3.3" height="3.3" fill="#c0163c"/>
<rect x="383.35" y="498.95" width="3.3" height="3.3" fill="#c0163c"/>
<circle cx="294.04" cy="451.20" r="1.65" fill="#2a4e96"/>
<circle cx="316.78" cy="450.60" r="1.65" fill="#2a4e96"/>
<circle cx="339.52" cy="456.30" r="1.65" fill="#2a4e96"/>
<circle cx="362.26" cy="475.60" r="1.65" fill="#2a4e96"/>
<circle cx="385.00" cy="506.00" r="1.65" fill="#2a4e96"/>
<text x="397.8" y="474.9" font-size="7.3" text-anchor="start" fill="#222" font-weight="normal" font-style="normal" stroke="#222" stroke-width="0.12" >-Emricasan</text>
<line x1="397.8" y1="476.5" x2="435.3" y2="476.5" stroke="#333" stroke-width="0.8"/>
<text x="441.2" y="474.9" font-size="7.3" text-anchor="start" fill="#222" font-weight="normal" font-style="normal" stroke="#222" stroke-width="0.12" >+Emricasan</text>
<line x1="441.2" y1="476.5" x2="481.6" y2="476.5" stroke="#333" stroke-width="0.8"/>
<circle cx="399.5" cy="482.8" r="1.65" fill="#2a4e96"/>
<text x="404.8" y="485.4" font-size="7.3" text-anchor="start" fill="#222" font-weight="normal" font-style="normal" stroke="#222" stroke-width="0.12" >MLL-AF9</text>
<rect x="397.85" y="489.85" width="3.3" height="3.3" fill="#c0163c"/>
<text x="404.8" y="494.1" font-size="7.3" text-anchor="start" fill="#222" font-weight="normal" font-style="normal" stroke="#222" stroke-width="0.12" >MLL-TFE3</text>
<circle cx="444.2" cy="482.8" r="1.55" fill="#fff" stroke="#2a4e96" stroke-width="0.75"/>
<text x="449" y="485.4" font-size="7.3" text-anchor="start" fill="#222" font-weight="normal" font-style="normal" stroke="#222" stroke-width="0.12" >MLL-AF9</text>
<rect x="442.65" y="489.95" width="3.1" height="3.1" fill="#fff" stroke="#c0163c" stroke-width="0.75"/>
<text x="449" y="494.1" font-size="7.3" text-anchor="start" fill="#222" font-weight="normal" font-style="normal" stroke="#222" stroke-width="0.12" >MLL-TFE3</text>
<text x="324.1" y="567.9" font-size="9.5" text-anchor="middle" fill="#111" font-weight="normal" font-style="normal" stroke="#111" stroke-width="0.12" >Venetoclax</text>
<line x1="301.25" y1="568.5" x2="346.95000000000005" y2="568.5" stroke="#222" stroke-width="0.9"/>
<line x1="263.7" y1="573.1" x2="263.7" y2="655.0" stroke="#111" stroke-width="1.3" />
<line x1="263.1" y1="654.4" x2="387.5" y2="654.4" stroke="#111" stroke-width="1.3" />
<line x1="260.6" y1="646.3" x2="263.7" y2="646.3" stroke="#111" stroke-width="1.0" />
<text x="257.4" y="649.3" font-size="8.3" text-anchor="end" fill="#222" font-weight="normal" font-style="normal" stroke="#222" stroke-width="0.12" >0</text>
<line x1="260.6" y1="615.95" x2="263.7" y2="615.95" stroke="#111" stroke-width="1.0" />
<text x="257.4" y="618.95" font-size="8.3" text-anchor="end" fill="#222" font-weight="normal" font-style="normal" stroke="#222" stroke-width="0.12" >50</text>
<line x1="260.6" y1="585.6" x2="263.7" y2="585.6" stroke="#111" stroke-width="1.0" />
<text x="257.4" y="588.6" font-size="8.3" text-anchor="end" fill="#222" font-weight="normal" font-style="normal" stroke="#222" stroke-width="0.12" >100</text>
<line x1="271.3" y1="654.4" x2="271.3" y2="657.4" stroke="#111" stroke-width="1.0" />
<text x="271.3" y="668.8" font-size="8.3" text-anchor="middle" fill="#222" font-weight="normal" font-style="normal" stroke="#222" stroke-width="0.12" >0</text>
<line x1="294.1" y1="654.4" x2="294.1" y2="657.4" stroke="#111" stroke-width="1.0" />
<text x="294.1" y="668.8" font-size="8.3" text-anchor="middle" fill="#222" font-weight="normal" font-style="normal" stroke="#222" stroke-width="0.12" >1</text>
<line x1="316.90000000000003" y1="654.4" x2="316.90000000000003" y2="657.4" stroke="#111" stroke-width="1.0" />
<text x="316.90000000000003" y="668.8" font-size="8.3" text-anchor="middle" fill="#222" font-weight="normal" font-style="normal" stroke="#222" stroke-width="0.12" >2</text>
<line x1="339.70000000000005" y1="654.4" x2="339.70000000000005" y2="657.4" stroke="#111" stroke-width="1.0" />
<text x="339.70000000000005" y="668.8" font-size="8.3" text-anchor="middle" fill="#222" font-weight="normal" font-style="normal" stroke="#222" stroke-width="0.12" >3</text>
<line x1="362.5" y1="654.4" x2="362.5" y2="657.4" stroke="#111" stroke-width="1.0" />
<text x="362.5" y="668.8" font-size="8.3" text-anchor="middle" fill="#222" font-weight="normal" font-style="normal" stroke="#222" stroke-width="0.12" >4</text>
<line x1="385.3" y1="654.4" x2="385.3" y2="657.4" stroke="#111" stroke-width="1.0" />
<text x="385.3" y="668.8" font-size="8.3" text-anchor="middle" fill="#222" font-weight="normal" font-style="normal" stroke="#222" stroke-width="0.12" >5</text>
<text transform="translate(236.1,614) rotate(-90)" font-size="9.0" text-anchor="middle" fill="#1a1a1a" stroke="#1a1a1a" stroke-width="0.2" textLength="32" lengthAdjust="spacingAndGlyphs">% viability</text>
<text x="325.6" y="682.4" font-size="9.3" text-anchor="middle" fill="#1a1a1a" stroke="#1a1a1a" stroke-width="0.2" textLength="26.0" lengthAdjust="spacingAndGlyphs">Log[nM]</text>
<polyline points="271.30,585.61 272.47,585.61 273.63,585.62 274.80,585.62 275.96,585.62 277.13,585.62 278.29,585.63 279.46,585.63 280.62,585.64 281.79,585.64 282.95,585.65 284.12,585.65 285.28,585.66 286.45,585.67 287.61,585.67 288.78,585.68 289.95,585.70 291.11,585.71 292.28,585.72 293.44,585.74 294.61,585.76 295.77,585.78 296.94,585.80 298.10,585.83 299.27,585.86 300.43,585.89 301.60,585.93 302.76,585.98 303.93,586.03 305.09,586.08 306.26,586.15 307.43,586.22 308.59,586.30 309.76,586.39 310.92,586.49 312.09,586.61 313.25,586.74 314.42,586.89 315.58,587.06 316.75,587.25 317.91,587.46 319.08,587.70 320.24,587.96 321.41,588.27 322.57,588.60 323.74,588.98 324.91,589.40 326.07,589.87 327.24,590.39 328.40,590.97 329.57,591.61 330.73,592.32 331.90,593.11 333.06,593.97 334.23,594.91 335.39,595.93 336.56,597.05 337.72,598.25 338.89,599.55 340.05,600.93 341.22,602.41 342.39,603.96 343.55,605.60 344.72,607.31 345.88,609.08 347.05,610.89 348.21,612.75 349.38,614.63 350.54,616.53 351.71,618.41 352.87,620.28 354.04,622.12 355.20,623.91 356.37,625.64 357.53,627.31 358.70,628.89 359.87,630.40 361.03,631.82 362.20,633.15 363.36,634.39 364.53,635.54 365.69,636.60 366.86,637.57 368.02,638.47 369.19,639.28 370.35,640.02 371.52,640.69 372.68,641.29 373.85,641.83 375.01,642.32 376.18,642.76" fill="none" stroke="#2a4e96" stroke-width="1.3" />
<polyline points="271.30,585.60 272.47,585.60 273.63,585.60 274.80,585.60 275.96,585.60 277.13,585.60 278.29,585.60 279.46,585.60 280.62,585.60 281.79,585.60 282.95,585.60 284.12,585.60 285.28,585.60 286.45,585.60 287.61,585.60 288.78,585.60 289.95,585.60 291.11,585.60 292.28,585.60 293.44,585.60 294.61,585.60 295.77,585.60 296.94,585.60 298.10,585.60 299.27,585.60 300.43,585.60 301.60,585.61 302.76,585.61 303.93,585.61 305.09,585.61 306.26,585.61 307.43,585.61 308.59,585.62 309.76,585.62 310.92,585.62 312.09,585.63 313.25,585.63 314.42,585.64 315.58,585.65 316.75,585.65 317.91,585.67 319.08,585.68 320.24,585.69 321.41,585.71 322.57,585.73 323.74,585.76 324.91,585.79 326.07,585.83 327.24,585.88 328.40,585.93 329.57,586.00 330.73,586.08 331.90,586.18 333.06,586.29 334.23,586.43 335.39,586.59 336.56,586.78 337.72,587.01 338.89,587.29 340.05,587.62 341.22,588.00 342.39,588.46 343.55,589.00 344.72,589.64 345.88,590.38 347.05,591.25 348.21,592.26 349.38,593.42 350.54,594.75 351.71,596.26 352.87,597.96 354.04,599.85 355.20,601.93 356.37,604.20 357.53,606.63 358.70,609.20 359.87,611.88 361.03,614.63 362.20,617.39 363.36,620.14 364.53,622.81 365.69,625.38 366.86,627.80 368.02,630.06 369.19,632.14 370.35,634.02 371.52,635.71 372.68,637.21 373.85,638.53 375.01,639.69 376.18,640.69" fill="none" stroke="#c0163c" stroke-width="1.3" />
<line x1="321.3" y1="596.4" x2="321.3" y2="599.6" stroke="#2a4e96" stroke-width="0.7" />
<line x1="320.1" y1="596.4" x2="322.5" y2="596.4" stroke="#2a4e96" stroke-width="0.7" />
<line x1="320.1" y1="599.6" x2="322.5" y2="599.6" stroke="#2a4e96" stroke-width="0.7" />
<line x1="362.3" y1="612.5" x2="362.3" y2="616.5" stroke="#c0163c" stroke-width="0.7" />
<line x1="361.1" y1="612.5" x2="363.5" y2="612.5" stroke="#c0163c" stroke-width="0.7" />
<line x1="361.1" y1="616.5" x2="363.5" y2="616.5" stroke="#c0163c" stroke-width="0.7" />
<rect x="278.35" y="584.15" width="3.3" height="3.3" fill="#c0163c"/>
<rect x="292.15" y="584.85" width="3.3" height="3.3" fill="#c0163c"/>
<rect x="305.65" y="586.85" width="3.3" height="3.3" fill="#c0163c"/>
<rect x="319.65" y="588.75" width="3.3" height="3.3" fill="#c0163c"/>
<rect x="333.35" y="590.85" width="3.3" height="3.3" fill="#c0163c"/>
<rect x="347.15" y="593.55" width="3.3" height="3.3" fill="#c0163c"/>
<rect x="360.65" y="613.75" width="3.3" height="3.3" fill="#c0163c"/>
<rect x="374.15" y="642.15" width="3.3" height="3.3" fill="#c0163c"/>
<circle cx="280.00" cy="589.00" r="1.65" fill="#2a4e96"/>
<circle cx="293.80" cy="592.50" r="1.65" fill="#2a4e96"/>
<circle cx="307.30" cy="595.20" r="1.65" fill="#2a4e96"/>
<circle cx="321.30" cy="599.00" r="1.65" fill="#2a4e96"/>
<circle cx="335.00" cy="599.00" r="1.65" fill="#2a4e96"/>
<circle cx="348.80" cy="601.50" r="1.65" fill="#2a4e96"/>
<circle cx="362.30" cy="638.10" r="1.65" fill="#2a4e96"/>
<circle cx="375.80" cy="646.20" r="1.65" fill="#2a4e96"/>
<circle cx="399.2" cy="609.2" r="1.65" fill="#2a4e96"/>
<text x="404.6" y="611.8" font-size="7.3" text-anchor="start" fill="#222" font-weight="normal" font-style="normal" stroke="#222" stroke-width="0.12" >MLL-AF9</text>
<rect x="397.55" y="616.25" width="3.3" height="3.3" fill="#c0163c"/>
<text x="404.6" y="620.5" font-size="7.3" text-anchor="start" fill="#222" font-weight="normal" font-style="normal" stroke="#222" stroke-width="0.12" >MLL-TFE3</text>
<rect x="0.5" y="0.5" width="519" height="691" fill="none" stroke="#000" stroke-width="1"/>
</svg>
</body></html>
